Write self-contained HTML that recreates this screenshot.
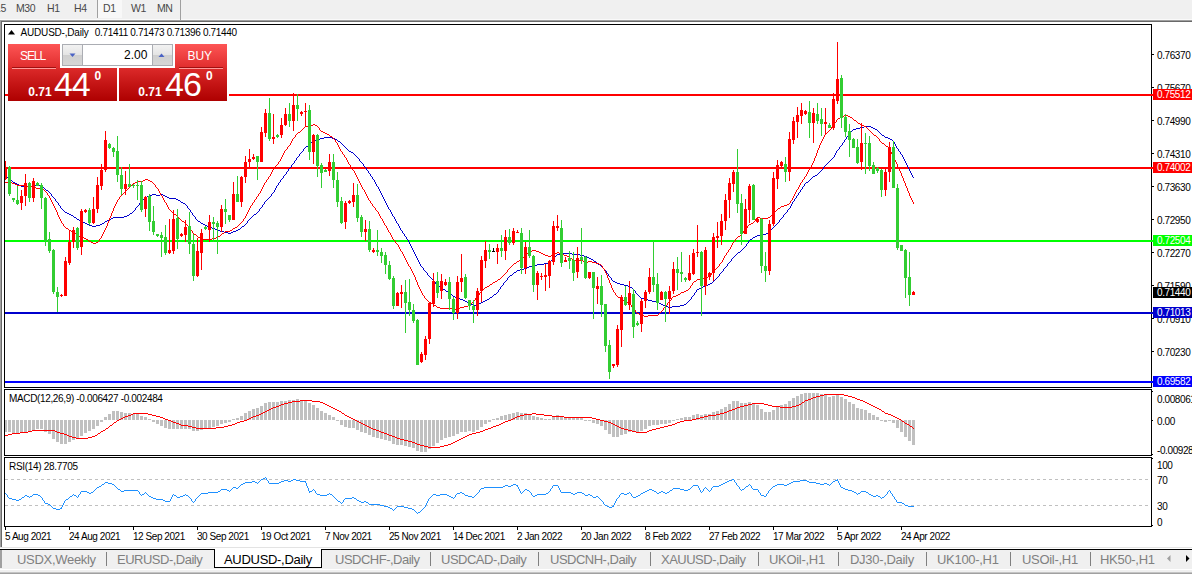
<!DOCTYPE html><html><head><meta charset="utf-8"><style>
*{margin:0;padding:0;box-sizing:border-box}
html,body{width:1192px;height:574px;overflow:hidden;background:#fff}
body{position:relative;font-family:"Liberation Sans",sans-serif;font-size:10px;color:#000}
.a{position:absolute;white-space:nowrap}
.t{position:absolute;white-space:nowrap;font-size:10px;line-height:11px;height:11px;letter-spacing:-0.3px}
.tb{position:absolute;white-space:nowrap;font-size:10.5px;line-height:12px;color:#484848;top:2px;letter-spacing:-0.45px}
.tab{position:absolute;white-space:nowrap;font-size:13px;line-height:14px;color:#808080;top:553px;letter-spacing:-0.3px}
.sep{position:absolute;width:1px;height:14px;top:552px;background:#808080}
.box{position:absolute;left:1153px;width:39px;height:11px;color:#fff;font-size:10px;line-height:12px;overflow:hidden;padding-left:4px;white-space:nowrap;letter-spacing:-0.4px}
</style></head><body>
<div class="a" style="left:0;top:0;width:1192px;height:19px;background:#f0f0f0"></div>
<div class="a" style="left:0;top:19px;width:1192px;height:1px;background:#fafafa"></div>
<div class="a" style="left:0;top:20px;width:1192px;height:1px;background:#a0a0a0"></div>
<div class="a" style="left:1px;top:21px;width:1191px;height:1px;background:#696969"></div>
<div class="a" style="left:0;top:20px;width:1px;height:527px;background:#a0a0a0"></div>
<div class="a" style="left:1px;top:21px;width:1px;height:526px;background:#696969"></div>
<div class="a" style="left:98px;top:0;width:24px;height:18px;background:#f8f8f8"></div>
<div class="a" style="left:97px;top:0;width:1px;height:18px;background:#a0a0a0"></div>
<div class="a" style="left:180px;top:0;width:1px;height:20px;background:#a0a0a0"></div>
<div class="tb" style="left:-5px">15</div>
<div class="tb" style="left:16px">M30</div>
<div class="tb" style="left:47px">H1</div>
<div class="tb" style="left:74px">H4</div>
<div class="tb" style="left:103px">D1</div>
<div class="tb" style="left:131px">W1</div>
<div class="tb" style="left:157px">MN</div>
<svg class="a" style="left:0;top:0" width="1192" height="574" viewBox="0 0 1192 574" shape-rendering="crispEdges">
<rect x="5" y="94" width="1146" height="2" fill="#ff0000"/>
<rect x="5" y="167" width="1146" height="2" fill="#ff0000"/>
<rect x="5" y="240" width="1146" height="2" fill="#00ff00"/>
<rect x="5" y="312" width="1146" height="2" fill="#0000cd"/>
<rect x="5" y="381" width="1146" height="2" fill="#0000ff"/>
<path d="M5 176h1v1h-1zM6 177h1v1h-1zM7 177h1v1h-1zM8 178h1v1h-1zM9 179h1v1h-1zM10 180h1v1h-1zM11 180h1v1h-1zM12 181h1v1h-1zM13 182h1v1h-1zM14 182h1v1h-1zM15 183h1v1h-1zM16 183h1v1h-1zM17 184h1v1h-1zM18 184h1v1h-1zM19 185h1v1h-1zM20 185h1v1h-1zM21 186h1v1h-1zM22 186h1v1h-1zM23 186h1v1h-1zM24 186h1v1h-1zM25 186h1v1h-1zM26 186h1v1h-1zM27 186h1v1h-1zM28 186h1v1h-1zM29 186h1v1h-1zM30 186h1v1h-1zM31 186h1v1h-1zM32 185h1v1h-1zM33 185h1v1h-1zM34 185h1v1h-1zM35 185h1v1h-1zM36 185h1v1h-1zM37 185h1v1h-1zM38 185h1v1h-1zM39 185h1v1h-1zM40 186h1v1h-1zM41 186h1v1h-1zM42 187h1v1h-1zM43 187h1v1h-1zM44 188h1v1h-1zM45 189h1v1h-1zM46 190h1v1h-1zM47 190h1v1h-1zM48 191h1v1h-1zM49 192h1v1h-1zM50 193h1v1h-1zM51 194h1v2h-1zM52 196h1v1h-1zM53 197h1v1h-1zM54 198h1v1h-1zM55 199h1v2h-1zM56 201h1v1h-1zM57 202h1v1h-1zM58 203h1v2h-1zM59 205h1v1h-1zM60 206h1v2h-1zM61 208h1v1h-1zM62 209h1v1h-1zM63 210h1v1h-1zM64 211h1v1h-1zM65 212h1v1h-1zM66 212h1v1h-1zM67 213h1v1h-1zM68 213h1v1h-1zM69 214h1v1h-1zM70 214h1v1h-1zM71 215h1v1h-1zM72 215h1v1h-1zM73 216h1v1h-1zM74 217h1v1h-1zM75 217h1v1h-1zM76 218h1v1h-1zM77 219h1v1h-1zM78 219h1v1h-1zM79 220h1v1h-1zM80 220h1v1h-1zM81 221h1v1h-1zM82 221h1v1h-1zM83 222h1v1h-1zM84 222h1v1h-1zM85 223h1v1h-1zM86 223h1v1h-1zM87 224h1v1h-1zM88 224h1v1h-1zM89 225h1v1h-1zM90 225h1v1h-1zM91 225h1v1h-1zM92 226h1v1h-1zM93 226h1v1h-1zM94 226h1v1h-1zM95 226h1v1h-1zM96 225h1v1h-1zM97 225h1v1h-1zM98 225h1v1h-1zM99 225h1v1h-1zM100 224h1v1h-1zM101 224h1v1h-1zM102 223h1v1h-1zM103 223h1v1h-1zM104 222h1v1h-1zM105 221h1v1h-1zM106 221h1v1h-1zM107 220h1v1h-1zM108 220h1v1h-1zM109 219h1v1h-1zM110 219h1v1h-1zM111 218h1v1h-1zM112 218h1v1h-1zM113 217h1v1h-1zM114 217h1v1h-1zM115 217h1v1h-1zM116 217h1v1h-1zM117 217h1v1h-1zM118 217h1v1h-1zM119 217h1v1h-1zM120 217h1v1h-1zM121 217h1v1h-1zM122 217h1v1h-1zM123 217h1v1h-1zM124 216h1v1h-1zM125 216h1v1h-1zM126 216h1v1h-1zM127 215h1v1h-1zM128 215h1v1h-1zM129 214h1v1h-1zM130 213h1v1h-1zM131 213h1v1h-1zM132 212h1v1h-1zM133 211h1v1h-1zM134 210h1v1h-1zM135 208h1v2h-1zM136 207h1v1h-1zM137 206h1v1h-1zM138 205h1v1h-1zM139 203h1v2h-1zM140 202h1v1h-1zM141 201h1v1h-1zM142 200h1v1h-1zM143 199h1v1h-1zM144 198h1v1h-1zM145 197h1v1h-1zM146 197h1v1h-1zM147 196h1v1h-1zM148 196h1v1h-1zM149 195h1v1h-1zM150 195h1v1h-1zM151 195h1v1h-1zM152 194h1v1h-1zM153 194h1v1h-1zM154 194h1v1h-1zM155 194h1v1h-1zM156 195h1v1h-1zM157 195h1v1h-1zM158 195h1v1h-1zM159 195h1v1h-1zM160 194h1v1h-1zM161 194h1v1h-1zM162 194h1v1h-1zM163 195h1v1h-1zM164 195h1v1h-1zM165 196h1v1h-1zM166 196h1v1h-1zM167 197h1v1h-1zM168 197h1v1h-1zM169 198h1v1h-1zM170 198h1v1h-1zM171 198h1v1h-1zM172 198h1v1h-1zM173 198h1v1h-1zM174 198h1v1h-1zM175 198h1v1h-1zM176 199h1v1h-1zM177 199h1v1h-1zM178 200h1v1h-1zM179 200h1v1h-1zM180 201h1v1h-1zM181 202h1v1h-1zM182 202h1v1h-1zM183 203h1v1h-1zM184 203h1v1h-1zM185 204h1v1h-1zM186 205h1v1h-1zM187 206h1v2h-1zM188 208h1v1h-1zM189 209h1v1h-1zM190 210h1v2h-1zM191 212h1v1h-1zM192 213h1v2h-1zM193 215h1v1h-1zM194 216h1v1h-1zM195 217h1v2h-1zM196 219h1v1h-1zM197 220h1v1h-1zM198 221h1v1h-1zM199 221h1v1h-1zM200 222h1v1h-1zM201 223h1v1h-1zM202 223h1v1h-1zM203 224h1v1h-1zM204 224h1v1h-1zM205 225h1v1h-1zM206 225h1v1h-1zM207 226h1v1h-1zM208 226h1v1h-1zM209 227h1v1h-1zM210 227h1v1h-1zM211 227h1v1h-1zM212 228h1v1h-1zM213 228h1v1h-1zM214 228h1v1h-1zM215 229h1v1h-1zM216 229h1v1h-1zM217 230h1v1h-1zM218 230h1v1h-1zM219 230h1v1h-1zM220 231h1v1h-1zM221 231h1v1h-1zM222 231h1v1h-1zM223 231h1v1h-1zM224 232h1v1h-1zM225 232h1v1h-1zM226 232h1v1h-1zM227 232h1v1h-1zM228 233h1v1h-1zM229 233h1v1h-1zM230 233h1v1h-1zM231 232h1v1h-1zM232 232h1v1h-1zM233 231h1v1h-1zM234 231h1v1h-1zM235 231h1v1h-1zM236 230h1v1h-1zM237 230h1v1h-1zM238 229h1v1h-1zM239 229h1v1h-1zM240 228h1v1h-1zM241 227h1v1h-1zM242 226h1v1h-1zM243 226h1v1h-1zM244 225h1v1h-1zM245 224h1v1h-1zM246 223h1v1h-1zM247 221h1v2h-1zM248 220h1v1h-1zM249 219h1v1h-1zM250 218h1v1h-1zM251 217h1v1h-1zM252 216h1v1h-1zM253 215h1v1h-1zM254 214h1v1h-1zM255 214h1v1h-1zM256 213h1v1h-1zM257 212h1v1h-1zM258 211h1v1h-1zM259 209h1v2h-1zM260 208h1v1h-1zM261 207h1v1h-1zM262 205h1v2h-1zM263 204h1v1h-1zM264 202h1v2h-1zM265 201h1v1h-1zM266 200h1v1h-1zM267 199h1v1h-1zM268 198h1v1h-1zM269 197h1v1h-1zM270 196h1v1h-1zM271 194h1v2h-1zM272 193h1v1h-1zM273 192h1v1h-1zM274 190h1v2h-1zM275 188h1v2h-1zM276 186h1v2h-1zM277 185h1v1h-1zM278 183h1v2h-1zM279 182h1v1h-1zM280 180h1v2h-1zM281 179h1v1h-1zM282 178h1v1h-1zM283 176h1v2h-1zM284 175h1v1h-1zM285 174h1v1h-1zM286 172h1v2h-1zM287 171h1v1h-1zM288 169h1v2h-1zM289 168h1v1h-1zM290 167h1v1h-1zM291 165h1v2h-1zM292 164h1v1h-1zM293 163h1v1h-1zM294 161h1v2h-1zM295 160h1v1h-1zM296 158h1v2h-1zM297 157h1v1h-1zM298 156h1v1h-1zM299 154h1v2h-1zM300 153h1v1h-1zM301 152h1v1h-1zM302 151h1v1h-1zM303 149h1v2h-1zM304 148h1v1h-1zM305 147h1v1h-1zM306 146h1v1h-1zM307 146h1v1h-1zM308 145h1v1h-1zM309 144h1v1h-1zM310 143h1v1h-1zM311 142h1v1h-1zM312 141h1v1h-1zM313 140h1v1h-1zM314 140h1v1h-1zM315 140h1v1h-1zM316 139h1v1h-1zM317 139h1v1h-1zM318 139h1v1h-1zM319 139h1v1h-1zM320 138h1v1h-1zM321 138h1v1h-1zM322 138h1v1h-1zM323 138h1v1h-1zM324 137h1v1h-1zM325 137h1v1h-1zM326 137h1v1h-1zM327 137h1v1h-1zM328 137h1v1h-1zM329 137h1v1h-1zM330 137h1v1h-1zM331 137h1v1h-1zM332 138h1v1h-1zM333 138h1v1h-1zM334 138h1v1h-1zM335 139h1v1h-1zM336 139h1v1h-1zM337 140h1v1h-1zM338 141h1v1h-1zM339 141h1v1h-1zM340 142h1v1h-1zM341 143h1v1h-1zM342 144h1v1h-1zM343 145h1v1h-1zM344 146h1v1h-1zM345 147h1v1h-1zM346 148h1v1h-1zM347 149h1v1h-1zM348 150h1v1h-1zM349 151h1v1h-1zM350 151h1v1h-1zM351 152h1v1h-1zM352 152h1v1h-1zM353 153h1v1h-1zM354 154h1v1h-1zM355 155h1v1h-1zM356 156h1v1h-1zM357 157h1v1h-1zM358 158h1v1h-1zM359 159h1v2h-1zM360 161h1v1h-1zM361 162h1v1h-1zM362 163h1v1h-1zM363 164h1v2h-1zM364 166h1v1h-1zM365 167h1v1h-1zM366 168h1v2h-1zM367 170h1v1h-1zM368 171h1v2h-1zM369 173h1v1h-1zM370 174h1v2h-1zM371 176h1v1h-1zM372 177h1v2h-1zM373 179h1v1h-1zM374 180h1v2h-1zM375 182h1v2h-1zM376 184h1v2h-1zM377 186h1v1h-1zM378 187h1v2h-1zM379 189h1v2h-1zM380 191h1v2h-1zM381 193h1v2h-1zM382 195h1v2h-1zM383 197h1v2h-1zM384 199h1v2h-1zM385 201h1v2h-1zM386 203h1v2h-1zM387 205h1v2h-1zM388 207h1v2h-1zM389 209h1v1h-1zM390 210h1v2h-1zM391 212h1v2h-1zM392 214h1v2h-1zM393 216h1v1h-1zM394 217h1v2h-1zM395 219h1v2h-1zM396 221h1v2h-1zM397 223h1v1h-1zM398 224h1v2h-1zM399 226h1v2h-1zM400 228h1v2h-1zM401 230h1v1h-1zM402 231h1v2h-1zM403 233h1v1h-1zM404 234h1v2h-1zM405 236h1v1h-1zM406 237h1v2h-1zM407 239h1v1h-1zM408 240h1v2h-1zM409 242h1v2h-1zM410 244h1v2h-1zM411 246h1v2h-1zM412 248h1v2h-1zM413 250h1v2h-1zM414 252h1v2h-1zM415 254h1v2h-1zM416 256h1v2h-1zM417 258h1v2h-1zM418 260h1v2h-1zM419 262h1v2h-1zM420 264h1v2h-1zM421 266h1v1h-1zM422 267h1v1h-1zM423 268h1v2h-1zM424 270h1v1h-1zM425 271h1v1h-1zM426 272h1v1h-1zM427 273h1v2h-1zM428 275h1v1h-1zM429 276h1v1h-1zM430 277h1v1h-1zM431 278h1v1h-1zM432 279h1v1h-1zM433 280h1v1h-1zM434 281h1v1h-1zM435 282h1v2h-1zM436 284h1v1h-1zM437 285h1v1h-1zM438 286h1v1h-1zM439 286h1v1h-1zM440 287h1v1h-1zM441 288h1v1h-1zM442 288h1v1h-1zM443 289h1v1h-1zM444 289h1v1h-1zM445 290h1v1h-1zM446 291h1v1h-1zM447 291h1v1h-1zM448 292h1v1h-1zM449 293h1v1h-1zM450 294h1v1h-1zM451 294h1v1h-1zM452 295h1v1h-1zM453 296h1v1h-1zM454 296h1v1h-1zM455 297h1v1h-1zM456 297h1v1h-1zM457 298h1v1h-1zM458 298h1v1h-1zM459 298h1v1h-1zM460 299h1v1h-1zM461 299h1v1h-1zM462 299h1v1h-1zM463 300h1v1h-1zM464 300h1v1h-1zM465 301h1v1h-1zM466 301h1v1h-1zM467 302h1v1h-1zM468 302h1v1h-1zM469 303h1v1h-1zM470 303h1v1h-1zM471 304h1v1h-1zM472 304h1v1h-1zM473 305h1v1h-1zM474 305h1v1h-1zM475 305h1v1h-1zM476 304h1v1h-1zM477 304h1v1h-1zM478 304h1v1h-1zM479 303h1v1h-1zM480 303h1v1h-1zM481 302h1v1h-1zM482 302h1v1h-1zM483 301h1v1h-1zM484 301h1v1h-1zM485 300h1v1h-1zM486 300h1v1h-1zM487 299h1v1h-1zM488 299h1v1h-1zM489 298h1v1h-1zM490 297h1v1h-1zM491 297h1v1h-1zM492 296h1v1h-1zM493 295h1v1h-1zM494 294h1v1h-1zM495 294h1v1h-1zM496 293h1v1h-1zM497 292h1v1h-1zM498 290h1v2h-1zM499 289h1v1h-1zM500 287h1v2h-1zM501 286h1v1h-1zM502 285h1v1h-1zM503 283h1v2h-1zM504 282h1v1h-1zM505 281h1v1h-1zM506 280h1v1h-1zM507 278h1v2h-1zM508 277h1v1h-1zM509 276h1v1h-1zM510 275h1v1h-1zM511 275h1v1h-1zM512 274h1v1h-1zM513 273h1v1h-1zM514 272h1v1h-1zM515 272h1v1h-1zM516 271h1v1h-1zM517 270h1v1h-1zM518 270h1v1h-1zM519 270h1v1h-1zM520 269h1v1h-1zM521 269h1v1h-1zM522 269h1v1h-1zM523 269h1v1h-1zM524 268h1v1h-1zM525 268h1v1h-1zM526 268h1v1h-1zM527 267h1v1h-1zM528 267h1v1h-1zM529 266h1v1h-1zM530 266h1v1h-1zM531 266h1v1h-1zM532 266h1v1h-1zM533 266h1v1h-1zM534 266h1v1h-1zM535 265h1v1h-1zM536 265h1v1h-1zM537 264h1v1h-1zM538 264h1v1h-1zM539 264h1v1h-1zM540 264h1v1h-1zM541 264h1v1h-1zM542 264h1v1h-1zM543 264h1v1h-1zM544 263h1v1h-1zM545 263h1v1h-1zM546 263h1v1h-1zM547 263h1v1h-1zM548 262h1v1h-1zM549 262h1v1h-1zM550 261h1v1h-1zM551 260h1v1h-1zM552 259h1v1h-1zM553 258h1v1h-1zM554 257h1v1h-1zM555 256h1v1h-1zM556 255h1v1h-1zM557 254h1v1h-1zM558 254h1v1h-1zM559 254h1v1h-1zM560 253h1v1h-1zM561 253h1v1h-1zM562 253h1v1h-1zM563 253h1v1h-1zM564 253h1v1h-1zM565 253h1v1h-1zM566 253h1v1h-1zM567 253h1v1h-1zM568 253h1v1h-1zM569 253h1v1h-1zM570 253h1v1h-1zM571 253h1v1h-1zM572 254h1v1h-1zM573 254h1v1h-1zM574 254h1v1h-1zM575 254h1v1h-1zM576 254h1v1h-1zM577 254h1v1h-1zM578 254h1v1h-1zM579 254h1v1h-1zM580 255h1v1h-1zM581 255h1v1h-1zM582 255h1v1h-1zM583 255h1v1h-1zM584 256h1v1h-1zM585 256h1v1h-1zM586 256h1v1h-1zM587 257h1v1h-1zM588 257h1v1h-1zM589 258h1v1h-1zM590 258h1v1h-1zM591 259h1v1h-1zM592 259h1v1h-1zM593 260h1v1h-1zM594 261h1v1h-1zM595 261h1v1h-1zM596 262h1v1h-1zM597 263h1v1h-1zM598 264h1v1h-1zM599 264h1v1h-1zM600 265h1v1h-1zM601 266h1v1h-1zM602 267h1v1h-1zM603 268h1v1h-1zM604 269h1v1h-1zM605 270h1v1h-1zM606 271h1v2h-1zM607 273h1v1h-1zM608 274h1v2h-1zM609 276h1v1h-1zM610 277h1v1h-1zM611 278h1v2h-1zM612 280h1v1h-1zM613 281h1v1h-1zM614 281h1v1h-1zM615 282h1v1h-1zM616 282h1v1h-1zM617 283h1v1h-1zM618 283h1v1h-1zM619 283h1v1h-1zM620 284h1v1h-1zM621 284h1v1h-1zM622 284h1v1h-1zM623 284h1v1h-1zM624 285h1v1h-1zM625 285h1v1h-1zM626 285h1v1h-1zM627 285h1v1h-1zM628 286h1v1h-1zM629 286h1v1h-1zM630 287h1v1h-1zM631 287h1v1h-1zM632 288h1v1h-1zM633 289h1v1h-1zM634 290h1v1h-1zM635 291h1v2h-1zM636 293h1v1h-1zM637 294h1v1h-1zM638 295h1v1h-1zM639 296h1v1h-1zM640 297h1v1h-1zM641 298h1v1h-1zM642 298h1v1h-1zM643 298h1v1h-1zM644 299h1v1h-1zM645 299h1v1h-1zM646 299h1v1h-1zM647 299h1v1h-1zM648 300h1v1h-1zM649 300h1v1h-1zM650 300h1v1h-1zM651 300h1v1h-1zM652 301h1v1h-1zM653 301h1v1h-1zM654 301h1v1h-1zM655 301h1v1h-1zM656 302h1v1h-1zM657 302h1v1h-1zM658 302h1v1h-1zM659 303h1v1h-1zM660 303h1v1h-1zM661 304h1v1h-1zM662 304h1v1h-1zM663 305h1v1h-1zM664 305h1v1h-1zM665 306h1v1h-1zM666 306h1v1h-1zM667 306h1v1h-1zM668 307h1v1h-1zM669 307h1v1h-1zM670 307h1v1h-1zM671 307h1v1h-1zM672 306h1v1h-1zM673 306h1v1h-1zM674 306h1v1h-1zM675 306h1v1h-1zM676 306h1v1h-1zM677 306h1v1h-1zM678 306h1v1h-1zM679 306h1v1h-1zM680 305h1v1h-1zM681 305h1v1h-1zM682 305h1v1h-1zM683 305h1v1h-1zM684 304h1v1h-1zM685 304h1v1h-1zM686 303h1v1h-1zM687 302h1v1h-1zM688 301h1v1h-1zM689 300h1v1h-1zM690 299h1v1h-1zM691 297h1v2h-1zM692 296h1v1h-1zM693 295h1v1h-1zM694 293h1v2h-1zM695 292h1v1h-1zM696 290h1v2h-1zM697 289h1v1h-1zM698 289h1v1h-1zM699 288h1v1h-1zM700 288h1v1h-1zM701 287h1v1h-1zM702 287h1v1h-1zM703 286h1v1h-1zM704 286h1v1h-1zM705 285h1v1h-1zM706 285h1v1h-1zM707 285h1v1h-1zM708 284h1v1h-1zM709 284h1v1h-1zM710 283h1v1h-1zM711 283h1v1h-1zM712 282h1v1h-1zM713 281h1v1h-1zM714 280h1v1h-1zM715 279h1v1h-1zM716 278h1v1h-1zM717 277h1v1h-1zM718 276h1v1h-1zM719 274h1v2h-1zM720 273h1v1h-1zM721 272h1v1h-1zM722 271h1v1h-1zM723 269h1v2h-1zM724 268h1v1h-1zM725 267h1v1h-1zM726 266h1v1h-1zM727 264h1v2h-1zM728 263h1v1h-1zM729 262h1v1h-1zM730 261h1v1h-1zM731 259h1v2h-1zM732 258h1v1h-1zM733 257h1v1h-1zM734 256h1v1h-1zM735 255h1v1h-1zM736 254h1v1h-1zM737 253h1v1h-1zM738 252h1v1h-1zM739 252h1v1h-1zM740 251h1v1h-1zM741 250h1v1h-1zM742 249h1v1h-1zM743 248h1v1h-1zM744 247h1v1h-1zM745 246h1v1h-1zM746 244h1v2h-1zM747 243h1v1h-1zM748 241h1v2h-1zM749 240h1v1h-1zM750 239h1v1h-1zM751 239h1v1h-1zM752 238h1v1h-1zM753 237h1v1h-1zM754 237h1v1h-1zM755 236h1v1h-1zM756 236h1v1h-1zM757 235h1v1h-1zM758 235h1v1h-1zM759 235h1v1h-1zM760 234h1v1h-1zM761 234h1v1h-1zM762 234h1v1h-1zM763 234h1v1h-1zM764 234h1v1h-1zM765 234h1v1h-1zM766 233h1v1h-1zM767 233h1v1h-1zM768 232h1v1h-1zM769 231h1v1h-1zM770 230h1v1h-1zM771 229h1v1h-1zM772 228h1v1h-1zM773 227h1v1h-1zM774 226h1v1h-1zM775 225h1v1h-1zM776 224h1v1h-1zM777 223h1v1h-1zM778 222h1v1h-1zM779 220h1v2h-1zM780 219h1v1h-1zM781 218h1v1h-1zM782 217h1v1h-1zM783 215h1v2h-1zM784 214h1v1h-1zM785 213h1v1h-1zM786 212h1v1h-1zM787 210h1v2h-1zM788 209h1v1h-1zM789 208h1v1h-1zM790 206h1v2h-1zM791 204h1v2h-1zM792 202h1v2h-1zM793 201h1v1h-1zM794 199h1v2h-1zM795 198h1v1h-1zM796 196h1v2h-1zM797 195h1v1h-1zM798 193h1v2h-1zM799 192h1v1h-1zM800 190h1v2h-1zM801 189h1v1h-1zM802 187h1v2h-1zM803 186h1v1h-1zM804 184h1v2h-1zM805 183h1v1h-1zM806 182h1v1h-1zM807 182h1v1h-1zM808 181h1v1h-1zM809 180h1v1h-1zM810 179h1v1h-1zM811 178h1v1h-1zM812 177h1v1h-1zM813 176h1v1h-1zM814 176h1v1h-1zM815 175h1v1h-1zM816 175h1v1h-1zM817 174h1v1h-1zM818 173h1v1h-1zM819 172h1v1h-1zM820 171h1v1h-1zM821 170h1v1h-1zM822 169h1v1h-1zM823 167h1v2h-1zM824 166h1v1h-1zM825 165h1v1h-1zM826 164h1v1h-1zM827 163h1v1h-1zM828 162h1v1h-1zM829 161h1v1h-1zM830 160h1v1h-1zM831 159h1v1h-1zM832 158h1v1h-1zM833 157h1v1h-1zM834 155h1v2h-1zM835 153h1v2h-1zM836 151h1v2h-1zM837 150h1v1h-1zM838 149h1v1h-1zM839 147h1v2h-1zM840 146h1v1h-1zM841 145h1v1h-1zM842 143h1v2h-1zM843 142h1v1h-1zM844 140h1v2h-1zM845 139h1v1h-1zM846 137h1v2h-1zM847 136h1v1h-1zM848 134h1v2h-1zM849 133h1v1h-1zM850 132h1v1h-1zM851 131h1v1h-1zM852 130h1v1h-1zM853 129h1v1h-1zM854 129h1v1h-1zM855 129h1v1h-1zM856 128h1v1h-1zM857 128h1v1h-1zM858 128h1v1h-1zM859 128h1v1h-1zM860 127h1v1h-1zM861 127h1v1h-1zM862 127h1v1h-1zM863 127h1v1h-1zM864 126h1v1h-1zM865 126h1v1h-1zM866 126h1v1h-1zM867 126h1v1h-1zM868 126h1v1h-1zM869 126h1v1h-1zM870 126h1v1h-1zM871 127h1v1h-1zM872 127h1v1h-1zM873 128h1v1h-1zM874 128h1v1h-1zM875 129h1v1h-1zM876 129h1v1h-1zM877 130h1v1h-1zM878 131h1v1h-1zM879 132h1v1h-1zM880 133h1v1h-1zM881 134h1v1h-1zM882 135h1v1h-1zM883 135h1v1h-1zM884 136h1v1h-1zM885 137h1v1h-1zM886 137h1v1h-1zM887 137h1v1h-1zM888 138h1v1h-1zM889 138h1v1h-1zM890 139h1v1h-1zM891 139h1v1h-1zM892 140h1v1h-1zM893 141h1v1h-1zM894 142h1v2h-1zM895 144h1v2h-1zM896 146h1v2h-1zM897 148h1v1h-1zM898 149h1v2h-1zM899 151h1v1h-1zM900 152h1v2h-1zM901 154h1v1h-1zM902 155h1v2h-1zM903 157h1v2h-1zM904 159h1v2h-1zM905 161h1v2h-1zM906 163h1v2h-1zM907 165h1v2h-1zM908 167h1v2h-1zM909 169h1v2h-1zM910 171h1v2h-1zM911 173h1v2h-1zM912 175h1v2h-1zM913 177h1v1h-1z" fill="#0000cd"/>
<path d="M5 182h1v1h-1zM6 182h1v1h-1zM7 182h1v1h-1zM8 182h1v1h-1zM9 182h1v1h-1zM10 182h1v1h-1zM11 182h1v1h-1zM12 183h1v1h-1zM13 183h1v1h-1zM14 183h1v1h-1zM15 184h1v1h-1zM16 184h1v1h-1zM17 185h1v1h-1zM18 185h1v1h-1zM19 185h1v1h-1zM20 185h1v1h-1zM21 185h1v1h-1zM22 185h1v1h-1zM23 185h1v1h-1zM24 186h1v1h-1zM25 186h1v1h-1zM26 186h1v1h-1zM27 186h1v1h-1zM28 186h1v1h-1zM29 186h1v1h-1zM30 186h1v1h-1zM31 186h1v1h-1zM32 187h1v1h-1zM33 187h1v1h-1zM34 187h1v1h-1zM35 187h1v1h-1zM36 188h1v1h-1zM37 188h1v1h-1zM38 188h1v1h-1zM39 188h1v1h-1zM40 188h1v1h-1zM41 188h1v1h-1zM42 189h1v1h-1zM43 189h1v1h-1zM44 190h1v1h-1zM45 191h1v1h-1zM46 192h1v1h-1zM47 193h1v2h-1zM48 195h1v1h-1zM49 196h1v2h-1zM50 198h1v2h-1zM51 200h1v2h-1zM52 202h1v2h-1zM53 204h1v2h-1zM54 206h1v2h-1zM55 208h1v2h-1zM56 210h1v2h-1zM57 212h1v3h-1zM58 215h1v2h-1zM59 217h1v2h-1zM60 219h1v2h-1zM61 221h1v2h-1zM62 223h1v1h-1zM63 224h1v2h-1zM64 226h1v1h-1zM65 227h1v1h-1zM66 228h1v1h-1zM67 228h1v1h-1zM68 229h1v1h-1zM69 230h1v1h-1zM70 230h1v1h-1zM71 231h1v1h-1zM72 231h1v1h-1zM73 232h1v1h-1zM74 233h1v1h-1zM75 233h1v1h-1zM76 234h1v1h-1zM77 235h1v1h-1zM78 235h1v1h-1zM79 236h1v1h-1zM80 236h1v1h-1zM81 237h1v1h-1zM82 237h1v1h-1zM83 237h1v1h-1zM84 238h1v1h-1zM85 238h1v1h-1zM86 239h1v1h-1zM87 239h1v1h-1zM88 240h1v1h-1zM89 241h1v1h-1zM90 241h1v1h-1zM91 242h1v1h-1zM92 242h1v1h-1zM93 243h1v1h-1zM94 243h1v1h-1zM95 243h1v1h-1zM96 242h1v1h-1zM97 242h1v1h-1zM98 241h1v1h-1zM99 239h1v2h-1zM100 238h1v1h-1zM101 236h1v2h-1zM102 234h1v2h-1zM103 232h1v2h-1zM104 230h1v2h-1zM105 228h1v2h-1zM106 226h1v2h-1zM107 223h1v3h-1zM108 221h1v2h-1zM109 218h1v3h-1zM110 216h1v2h-1zM111 213h1v3h-1zM112 211h1v2h-1zM113 208h1v3h-1zM114 206h1v2h-1zM115 204h1v2h-1zM116 202h1v2h-1zM117 200h1v2h-1zM118 199h1v1h-1zM119 197h1v2h-1zM120 196h1v1h-1zM121 195h1v1h-1zM122 194h1v1h-1zM123 193h1v1h-1zM124 192h1v1h-1zM125 191h1v1h-1zM126 190h1v1h-1zM127 189h1v1h-1zM128 188h1v1h-1zM129 187h1v1h-1zM130 186h1v1h-1zM131 185h1v1h-1zM132 184h1v1h-1zM133 183h1v1h-1zM134 183h1v1h-1zM135 182h1v1h-1zM136 182h1v1h-1zM137 181h1v1h-1zM138 181h1v1h-1zM139 181h1v1h-1zM140 181h1v1h-1zM141 181h1v1h-1zM142 181h1v1h-1zM143 180h1v1h-1zM144 180h1v1h-1zM145 179h1v1h-1zM146 179h1v1h-1zM147 179h1v1h-1zM148 180h1v1h-1zM149 180h1v1h-1zM150 181h1v1h-1zM151 181h1v1h-1zM152 182h1v1h-1zM153 183h1v1h-1zM154 184h1v1h-1zM155 185h1v2h-1zM156 187h1v1h-1zM157 188h1v1h-1zM158 189h1v2h-1zM159 191h1v2h-1zM160 193h1v2h-1zM161 195h1v1h-1zM162 196h1v2h-1zM163 198h1v2h-1zM164 200h1v2h-1zM165 202h1v1h-1zM166 203h1v2h-1zM167 205h1v2h-1zM168 207h1v2h-1zM169 209h1v1h-1zM170 210h1v1h-1zM171 211h1v1h-1zM172 212h1v1h-1zM173 213h1v1h-1zM174 214h1v1h-1zM175 214h1v1h-1zM176 215h1v1h-1zM177 216h1v1h-1zM178 217h1v1h-1zM179 218h1v1h-1zM180 219h1v1h-1zM181 220h1v1h-1zM182 221h1v1h-1zM183 221h1v1h-1zM184 222h1v1h-1zM185 223h1v1h-1zM186 224h1v1h-1zM187 225h1v1h-1zM188 226h1v1h-1zM189 227h1v1h-1zM190 228h1v2h-1zM191 230h1v1h-1zM192 231h1v2h-1zM193 233h1v1h-1zM194 234h1v1h-1zM195 234h1v1h-1zM196 235h1v1h-1zM197 236h1v1h-1zM198 237h1v1h-1zM199 237h1v1h-1zM200 238h1v1h-1zM201 239h1v1h-1zM202 239h1v1h-1zM203 239h1v1h-1zM204 239h1v1h-1zM205 239h1v1h-1zM206 239h1v1h-1zM207 239h1v1h-1zM208 239h1v1h-1zM209 239h1v1h-1zM210 239h1v1h-1zM211 239h1v1h-1zM212 238h1v1h-1zM213 238h1v1h-1zM214 238h1v1h-1zM215 238h1v1h-1zM216 237h1v1h-1zM217 237h1v1h-1zM218 236h1v1h-1zM219 236h1v1h-1zM220 235h1v1h-1zM221 234h1v1h-1zM222 233h1v1h-1zM223 233h1v1h-1zM224 232h1v1h-1zM225 231h1v1h-1zM226 231h1v1h-1zM227 231h1v1h-1zM228 231h1v1h-1zM229 231h1v1h-1zM230 230h1v1h-1zM231 230h1v1h-1zM232 229h1v1h-1zM233 228h1v1h-1zM234 228h1v1h-1zM235 227h1v1h-1zM236 227h1v1h-1zM237 226h1v1h-1zM238 225h1v1h-1zM239 224h1v1h-1zM240 223h1v1h-1zM241 222h1v1h-1zM242 221h1v1h-1zM243 219h1v2h-1zM244 218h1v1h-1zM245 216h1v2h-1zM246 214h1v2h-1zM247 212h1v2h-1zM248 210h1v2h-1zM249 208h1v2h-1zM250 206h1v2h-1zM251 205h1v1h-1zM252 203h1v2h-1zM253 202h1v1h-1zM254 200h1v2h-1zM255 199h1v1h-1zM256 197h1v2h-1zM257 196h1v1h-1zM258 194h1v2h-1zM259 193h1v1h-1zM260 191h1v2h-1zM261 189h1v2h-1zM262 187h1v2h-1zM263 185h1v2h-1zM264 183h1v2h-1zM265 182h1v1h-1zM266 180h1v2h-1zM267 179h1v1h-1zM268 177h1v2h-1zM269 176h1v1h-1zM270 174h1v2h-1zM271 172h1v2h-1zM272 170h1v2h-1zM273 169h1v1h-1zM274 168h1v1h-1zM275 166h1v2h-1zM276 165h1v1h-1zM277 164h1v1h-1zM278 162h1v2h-1zM279 161h1v1h-1zM280 159h1v2h-1zM281 157h1v2h-1zM282 155h1v2h-1zM283 153h1v2h-1zM284 151h1v2h-1zM285 150h1v1h-1zM286 149h1v1h-1zM287 147h1v2h-1zM288 146h1v1h-1zM289 145h1v1h-1zM290 143h1v2h-1zM291 141h1v2h-1zM292 139h1v2h-1zM293 138h1v1h-1zM294 137h1v1h-1zM295 135h1v2h-1zM296 134h1v1h-1zM297 133h1v1h-1zM298 132h1v1h-1zM299 132h1v1h-1zM300 131h1v1h-1zM301 130h1v1h-1zM302 129h1v1h-1zM303 128h1v1h-1zM304 127h1v1h-1zM305 126h1v1h-1zM306 126h1v1h-1zM307 126h1v1h-1zM308 126h1v1h-1zM309 126h1v1h-1zM310 126h1v1h-1zM311 125h1v1h-1zM312 125h1v1h-1zM313 124h1v1h-1zM314 124h1v1h-1zM315 125h1v1h-1zM316 125h1v1h-1zM317 126h1v1h-1zM318 127h1v1h-1zM319 128h1v2h-1zM320 130h1v1h-1zM321 131h1v1h-1zM322 131h1v1h-1zM323 132h1v1h-1zM324 132h1v1h-1zM325 133h1v1h-1zM326 133h1v1h-1zM327 134h1v1h-1zM328 134h1v1h-1zM329 135h1v1h-1zM330 136h1v1h-1zM331 136h1v1h-1zM332 137h1v1h-1zM333 138h1v1h-1zM334 139h1v1h-1zM335 140h1v2h-1zM336 142h1v1h-1zM337 143h1v2h-1zM338 145h1v2h-1zM339 147h1v2h-1zM340 149h1v2h-1zM341 151h1v1h-1zM342 152h1v2h-1zM343 154h1v1h-1zM344 155h1v2h-1zM345 157h1v1h-1zM346 158h1v2h-1zM347 160h1v2h-1zM348 162h1v2h-1zM349 164h1v1h-1zM350 165h1v2h-1zM351 167h1v1h-1zM352 168h1v2h-1zM353 170h1v1h-1zM354 171h1v2h-1zM355 173h1v2h-1zM356 175h1v2h-1zM357 177h1v2h-1zM358 179h1v2h-1zM359 181h1v2h-1zM360 183h1v2h-1zM361 185h1v2h-1zM362 187h1v2h-1zM363 189h1v1h-1zM364 190h1v2h-1zM365 192h1v2h-1zM366 194h1v2h-1zM367 196h1v2h-1zM368 198h1v2h-1zM369 200h1v1h-1zM370 201h1v2h-1zM371 203h1v1h-1zM372 204h1v2h-1zM373 206h1v1h-1zM374 207h1v1h-1zM375 208h1v2h-1zM376 210h1v1h-1zM377 211h1v1h-1zM378 212h1v2h-1zM379 214h1v2h-1zM380 216h1v2h-1zM381 218h1v1h-1zM382 219h1v2h-1zM383 221h1v2h-1zM384 223h1v2h-1zM385 225h1v1h-1zM386 226h1v2h-1zM387 228h1v2h-1zM388 230h1v2h-1zM389 232h1v1h-1zM390 233h1v2h-1zM391 235h1v2h-1zM392 237h1v2h-1zM393 239h1v1h-1zM394 240h1v1h-1zM395 241h1v2h-1zM396 243h1v1h-1zM397 244h1v1h-1zM398 245h1v2h-1zM399 247h1v2h-1zM400 249h1v2h-1zM401 251h1v1h-1zM402 252h1v2h-1zM403 254h1v2h-1zM404 256h1v2h-1zM405 258h1v2h-1zM406 260h1v2h-1zM407 262h1v2h-1zM408 264h1v2h-1zM409 266h1v1h-1zM410 267h1v2h-1zM411 269h1v2h-1zM412 271h1v2h-1zM413 273h1v2h-1zM414 275h1v2h-1zM415 277h1v3h-1zM416 280h1v2h-1zM417 282h1v3h-1zM418 285h1v2h-1zM419 287h1v2h-1zM420 289h1v2h-1zM421 291h1v2h-1zM422 293h1v2h-1zM423 295h1v1h-1zM424 296h1v2h-1zM425 298h1v1h-1zM426 299h1v1h-1zM427 300h1v1h-1zM428 301h1v1h-1zM429 302h1v1h-1zM430 302h1v1h-1zM431 303h1v1h-1zM432 303h1v1h-1zM433 304h1v1h-1zM434 305h1v1h-1zM435 305h1v1h-1zM436 306h1v1h-1zM437 307h1v1h-1zM438 307h1v1h-1zM439 307h1v1h-1zM440 308h1v1h-1zM441 308h1v1h-1zM442 308h1v1h-1zM443 308h1v1h-1zM444 308h1v1h-1zM445 308h1v1h-1zM446 308h1v1h-1zM447 308h1v1h-1zM448 308h1v1h-1zM449 308h1v1h-1zM450 308h1v1h-1zM451 308h1v1h-1zM452 309h1v1h-1zM453 309h1v1h-1zM454 309h1v1h-1zM455 309h1v1h-1zM456 308h1v1h-1zM457 308h1v1h-1zM458 308h1v1h-1zM459 308h1v1h-1zM460 307h1v1h-1zM461 307h1v1h-1zM462 307h1v1h-1zM463 307h1v1h-1zM464 306h1v1h-1zM465 306h1v1h-1zM466 306h1v1h-1zM467 306h1v1h-1zM468 305h1v1h-1zM469 305h1v1h-1zM470 304h1v1h-1zM471 303h1v1h-1zM472 302h1v1h-1zM473 301h1v1h-1zM474 300h1v1h-1zM475 298h1v2h-1zM476 297h1v1h-1zM477 296h1v1h-1zM478 295h1v1h-1zM479 293h1v2h-1zM480 292h1v1h-1zM481 291h1v1h-1zM482 290h1v1h-1zM483 289h1v1h-1zM484 288h1v1h-1zM485 287h1v1h-1zM486 287h1v1h-1zM487 286h1v1h-1zM488 286h1v1h-1zM489 285h1v1h-1zM490 284h1v1h-1zM491 284h1v1h-1zM492 283h1v1h-1zM493 282h1v1h-1zM494 282h1v1h-1zM495 281h1v1h-1zM496 281h1v1h-1zM497 280h1v1h-1zM498 279h1v1h-1zM499 279h1v1h-1zM500 278h1v1h-1zM501 277h1v1h-1zM502 276h1v1h-1zM503 275h1v1h-1zM504 274h1v1h-1zM505 273h1v1h-1zM506 272h1v1h-1zM507 270h1v2h-1zM508 269h1v1h-1zM509 268h1v1h-1zM510 267h1v1h-1zM511 266h1v1h-1zM512 265h1v1h-1zM513 264h1v1h-1zM514 263h1v1h-1zM515 263h1v1h-1zM516 262h1v1h-1zM517 261h1v1h-1zM518 261h1v1h-1zM519 260h1v1h-1zM520 260h1v1h-1zM521 259h1v1h-1zM522 258h1v1h-1zM523 257h1v1h-1zM524 256h1v1h-1zM525 255h1v1h-1zM526 254h1v1h-1zM527 253h1v1h-1zM528 252h1v1h-1zM529 251h1v1h-1zM530 251h1v1h-1zM531 251h1v1h-1zM532 250h1v1h-1zM533 250h1v1h-1zM534 250h1v1h-1zM535 250h1v1h-1zM536 251h1v1h-1zM537 251h1v1h-1zM538 251h1v1h-1zM539 252h1v1h-1zM540 252h1v1h-1zM541 253h1v1h-1zM542 253h1v1h-1zM543 254h1v1h-1zM544 254h1v1h-1zM545 255h1v1h-1zM546 255h1v1h-1zM547 255h1v1h-1zM548 256h1v1h-1zM549 256h1v1h-1zM550 256h1v1h-1zM551 255h1v1h-1zM552 255h1v1h-1zM553 254h1v1h-1zM554 254h1v1h-1zM555 253h1v1h-1zM556 253h1v1h-1zM557 252h1v1h-1zM558 252h1v1h-1zM559 253h1v1h-1zM560 253h1v1h-1zM561 254h1v1h-1zM562 254h1v1h-1zM563 254h1v1h-1zM564 255h1v1h-1zM565 255h1v1h-1zM566 255h1v1h-1zM567 256h1v1h-1zM568 256h1v1h-1zM569 257h1v1h-1zM570 258h1v1h-1zM571 258h1v1h-1zM572 259h1v1h-1zM573 260h1v1h-1zM574 260h1v1h-1zM575 260h1v1h-1zM576 260h1v1h-1zM577 260h1v1h-1zM578 260h1v1h-1zM579 260h1v1h-1zM580 260h1v1h-1zM581 260h1v1h-1zM582 260h1v1h-1zM583 261h1v1h-1zM584 261h1v1h-1zM585 262h1v1h-1zM586 262h1v1h-1zM587 262h1v1h-1zM588 261h1v1h-1zM589 261h1v1h-1zM590 261h1v1h-1zM591 261h1v1h-1zM592 262h1v1h-1zM593 262h1v1h-1zM594 262h1v1h-1zM595 262h1v1h-1zM596 263h1v1h-1zM597 263h1v1h-1zM598 263h1v1h-1zM599 264h1v1h-1zM600 264h1v1h-1zM601 265h1v1h-1zM602 266h1v2h-1zM603 268h1v1h-1zM604 269h1v2h-1zM605 271h1v2h-1zM606 273h1v2h-1zM607 275h1v3h-1zM608 278h1v2h-1zM609 280h1v3h-1zM610 283h1v2h-1zM611 285h1v3h-1zM612 288h1v2h-1zM613 290h1v2h-1zM614 292h1v1h-1zM615 293h1v2h-1zM616 295h1v1h-1zM617 296h1v1h-1zM618 297h1v1h-1zM619 297h1v1h-1zM620 298h1v1h-1zM621 299h1v1h-1zM622 300h1v1h-1zM623 300h1v1h-1zM624 301h1v1h-1zM625 302h1v1h-1zM626 302h1v1h-1zM627 302h1v1h-1zM628 303h1v1h-1zM629 303h1v1h-1zM630 304h1v1h-1zM631 305h1v2h-1zM632 307h1v1h-1zM633 308h1v1h-1zM634 309h1v1h-1zM635 310h1v2h-1zM636 312h1v1h-1zM637 313h1v1h-1zM638 313h1v1h-1zM639 314h1v1h-1zM640 314h1v1h-1zM641 315h1v1h-1zM642 315h1v1h-1zM643 315h1v1h-1zM644 316h1v1h-1zM645 316h1v1h-1zM646 316h1v1h-1zM647 316h1v1h-1zM648 315h1v1h-1zM649 315h1v1h-1zM650 315h1v1h-1zM651 315h1v1h-1zM652 315h1v1h-1zM653 315h1v1h-1zM654 315h1v1h-1zM655 315h1v1h-1zM656 315h1v1h-1zM657 315h1v1h-1zM658 314h1v1h-1zM659 313h1v1h-1zM660 312h1v1h-1zM661 311h1v1h-1zM662 310h1v1h-1zM663 308h1v2h-1zM664 307h1v1h-1zM665 306h1v1h-1zM666 305h1v1h-1zM667 303h1v2h-1zM668 302h1v1h-1zM669 301h1v1h-1zM670 300h1v1h-1zM671 298h1v2h-1zM672 297h1v1h-1zM673 296h1v1h-1zM674 296h1v1h-1zM675 296h1v1h-1zM676 295h1v1h-1zM677 295h1v1h-1zM678 294h1v1h-1zM679 294h1v1h-1zM680 293h1v1h-1zM681 292h1v1h-1zM682 292h1v1h-1zM683 292h1v1h-1zM684 291h1v1h-1zM685 291h1v1h-1zM686 290h1v1h-1zM687 290h1v1h-1zM688 289h1v1h-1zM689 288h1v1h-1zM690 286h1v2h-1zM691 285h1v1h-1zM692 283h1v2h-1zM693 282h1v1h-1zM694 281h1v1h-1zM695 281h1v1h-1zM696 280h1v1h-1zM697 279h1v1h-1zM698 279h1v1h-1zM699 279h1v1h-1zM700 278h1v1h-1zM701 278h1v1h-1zM702 278h1v1h-1zM703 278h1v1h-1zM704 277h1v1h-1zM705 277h1v1h-1zM706 277h1v1h-1zM707 277h1v1h-1zM708 276h1v1h-1zM709 276h1v1h-1zM710 275h1v1h-1zM711 273h1v2h-1zM712 272h1v1h-1zM713 271h1v1h-1zM714 270h1v1h-1zM715 269h1v1h-1zM716 268h1v1h-1zM717 267h1v1h-1zM718 266h1v1h-1zM719 264h1v2h-1zM720 263h1v1h-1zM721 262h1v1h-1zM722 260h1v2h-1zM723 258h1v2h-1zM724 256h1v2h-1zM725 255h1v1h-1zM726 253h1v2h-1zM727 252h1v1h-1zM728 250h1v2h-1zM729 249h1v1h-1zM730 247h1v2h-1zM731 245h1v2h-1zM732 243h1v2h-1zM733 242h1v1h-1zM734 241h1v1h-1zM735 239h1v2h-1zM736 238h1v1h-1zM737 237h1v1h-1zM738 236h1v1h-1zM739 236h1v1h-1zM740 235h1v1h-1zM741 234h1v1h-1zM742 233h1v1h-1zM743 231h1v2h-1zM744 230h1v1h-1zM745 229h1v1h-1zM746 228h1v1h-1zM747 226h1v2h-1zM748 225h1v1h-1zM749 224h1v1h-1zM750 224h1v1h-1zM751 223h1v1h-1zM752 223h1v1h-1zM753 222h1v1h-1zM754 221h1v1h-1zM755 219h1v2h-1zM756 218h1v1h-1zM757 217h1v1h-1zM758 217h1v1h-1zM759 217h1v1h-1zM760 218h1v1h-1zM761 218h1v1h-1zM762 218h1v1h-1zM763 218h1v1h-1zM764 218h1v1h-1zM765 218h1v1h-1zM766 218h1v1h-1zM767 218h1v1h-1zM768 217h1v1h-1zM769 217h1v1h-1zM770 216h1v1h-1zM771 215h1v1h-1zM772 214h1v1h-1zM773 213h1v1h-1zM774 212h1v1h-1zM775 211h1v1h-1zM776 210h1v1h-1zM777 209h1v1h-1zM778 208h1v1h-1zM779 208h1v1h-1zM780 207h1v1h-1zM781 206h1v1h-1zM782 206h1v1h-1zM783 206h1v1h-1zM784 205h1v1h-1zM785 205h1v1h-1zM786 205h1v1h-1zM787 204h1v1h-1zM788 204h1v1h-1zM789 203h1v1h-1zM790 201h1v2h-1zM791 200h1v1h-1zM792 198h1v2h-1zM793 196h1v2h-1zM794 194h1v2h-1zM795 192h1v2h-1zM796 190h1v2h-1zM797 189h1v1h-1zM798 187h1v2h-1zM799 185h1v2h-1zM800 183h1v2h-1zM801 182h1v1h-1zM802 180h1v2h-1zM803 179h1v1h-1zM804 177h1v2h-1zM805 176h1v1h-1zM806 174h1v2h-1zM807 172h1v2h-1zM808 170h1v2h-1zM809 169h1v1h-1zM810 167h1v2h-1zM811 165h1v2h-1zM812 163h1v2h-1zM813 161h1v2h-1zM814 158h1v3h-1zM815 156h1v2h-1zM816 153h1v3h-1zM817 150h1v3h-1zM818 148h1v2h-1zM819 145h1v3h-1zM820 143h1v2h-1zM821 141h1v2h-1zM822 139h1v2h-1zM823 137h1v2h-1zM824 135h1v2h-1zM825 134h1v1h-1zM826 133h1v1h-1zM827 132h1v1h-1zM828 131h1v1h-1zM829 130h1v1h-1zM830 129h1v1h-1zM831 127h1v2h-1zM832 126h1v1h-1zM833 125h1v1h-1zM834 123h1v2h-1zM835 122h1v1h-1zM836 120h1v2h-1zM837 119h1v1h-1zM838 118h1v1h-1zM839 118h1v1h-1zM840 117h1v1h-1zM841 116h1v1h-1zM842 116h1v1h-1zM843 116h1v1h-1zM844 115h1v1h-1zM845 115h1v1h-1zM846 115h1v1h-1zM847 115h1v1h-1zM848 116h1v1h-1zM849 116h1v1h-1zM850 117h1v1h-1zM851 117h1v1h-1zM852 118h1v1h-1zM853 119h1v1h-1zM854 120h1v1h-1zM855 120h1v1h-1zM856 121h1v1h-1zM857 122h1v1h-1zM858 123h1v1h-1zM859 123h1v1h-1zM860 124h1v1h-1zM861 125h1v1h-1zM862 125h1v1h-1zM863 125h1v1h-1zM864 126h1v1h-1zM865 126h1v1h-1zM866 127h1v1h-1zM867 128h1v1h-1zM868 129h1v1h-1zM869 130h1v1h-1zM870 131h1v1h-1zM871 132h1v1h-1zM872 133h1v1h-1zM873 134h1v1h-1zM874 135h1v1h-1zM875 135h1v1h-1zM876 136h1v1h-1zM877 137h1v1h-1zM878 138h1v1h-1zM879 139h1v2h-1zM880 141h1v1h-1zM881 142h1v1h-1zM882 143h1v1h-1zM883 143h1v1h-1zM884 144h1v1h-1zM885 145h1v1h-1zM886 146h1v1h-1zM887 146h1v1h-1zM888 147h1v1h-1zM889 148h1v2h-1zM890 150h1v2h-1zM891 152h1v2h-1zM892 154h1v2h-1zM893 156h1v2h-1zM894 158h1v2h-1zM895 160h1v2h-1zM896 162h1v2h-1zM897 164h1v3h-1zM898 167h1v2h-1zM899 169h1v2h-1zM900 171h1v2h-1zM901 173h1v3h-1zM902 176h1v2h-1zM903 178h1v3h-1zM904 181h1v2h-1zM905 183h1v3h-1zM906 186h1v2h-1zM907 188h1v3h-1zM908 191h1v2h-1zM909 193h1v3h-1zM910 196h1v2h-1zM911 198h1v2h-1zM912 200h1v2h-1zM913 202h1v2h-1z" fill="#ff0000"/>
<rect x="5" y="161" width="1" height="19" fill="#ff0000"/>
<rect x="4" y="167" width="3" height="12" fill="#ff0000"/>
<rect x="9" y="166" width="1" height="30" fill="#32cd32"/>
<rect x="8" y="167" width="3" height="27" fill="#32cd32"/>
<rect x="13" y="198" width="1" height="4" fill="#32cd32"/>
<rect x="12" y="198" width="3" height="2" fill="#32cd32"/>
<rect x="17" y="186" width="1" height="19" fill="#32cd32"/>
<rect x="16" y="200" width="3" height="4" fill="#32cd32"/>
<rect x="21" y="190" width="1" height="20" fill="#ff0000"/>
<rect x="20" y="196" width="3" height="7" fill="#ff0000"/>
<rect x="25" y="174" width="1" height="32" fill="#ff0000"/>
<rect x="24" y="183" width="3" height="13" fill="#ff0000"/>
<rect x="29" y="182" width="1" height="20" fill="#32cd32"/>
<rect x="28" y="183" width="3" height="15" fill="#32cd32"/>
<rect x="33" y="178" width="1" height="24" fill="#ff0000"/>
<rect x="32" y="181" width="3" height="17" fill="#ff0000"/>
<rect x="37" y="182" width="1" height="4" fill="#32cd32"/>
<rect x="36" y="183" width="3" height="3" fill="#32cd32"/>
<rect x="41" y="183" width="1" height="26" fill="#32cd32"/>
<rect x="40" y="185" width="3" height="13" fill="#32cd32"/>
<rect x="45" y="197" width="1" height="49" fill="#32cd32"/>
<rect x="44" y="198" width="3" height="43" fill="#32cd32"/>
<rect x="49" y="232" width="1" height="21" fill="#32cd32"/>
<rect x="48" y="239" width="3" height="12" fill="#32cd32"/>
<rect x="53" y="249" width="1" height="45" fill="#32cd32"/>
<rect x="52" y="250" width="3" height="42" fill="#32cd32"/>
<rect x="57" y="287" width="1" height="25" fill="#32cd32"/>
<rect x="56" y="292" width="3" height="5" fill="#32cd32"/>
<rect x="61" y="294" width="1" height="3" fill="#ff0000"/>
<rect x="60" y="295" width="3" height="1" fill="#ff0000"/>
<rect x="65" y="257" width="1" height="39" fill="#ff0000"/>
<rect x="64" y="261" width="3" height="35" fill="#ff0000"/>
<rect x="69" y="230" width="1" height="35" fill="#ff0000"/>
<rect x="68" y="242" width="3" height="21" fill="#ff0000"/>
<rect x="73" y="227" width="1" height="21" fill="#ff0000"/>
<rect x="72" y="230" width="3" height="12" fill="#ff0000"/>
<rect x="77" y="227" width="1" height="23" fill="#32cd32"/>
<rect x="76" y="228" width="3" height="20" fill="#32cd32"/>
<rect x="81" y="209" width="1" height="46" fill="#ff0000"/>
<rect x="80" y="211" width="3" height="36" fill="#ff0000"/>
<rect x="85" y="209" width="1" height="4" fill="#ff0000"/>
<rect x="84" y="210" width="3" height="2" fill="#ff0000"/>
<rect x="89" y="208" width="1" height="17" fill="#32cd32"/>
<rect x="88" y="210" width="3" height="13" fill="#32cd32"/>
<rect x="93" y="197" width="1" height="27" fill="#ff0000"/>
<rect x="92" y="209" width="3" height="14" fill="#ff0000"/>
<rect x="97" y="177" width="1" height="36" fill="#ff0000"/>
<rect x="96" y="185" width="3" height="24" fill="#ff0000"/>
<rect x="101" y="164" width="1" height="26" fill="#ff0000"/>
<rect x="100" y="170" width="3" height="16" fill="#ff0000"/>
<rect x="105" y="131" width="1" height="41" fill="#ff0000"/>
<rect x="104" y="140" width="3" height="30" fill="#ff0000"/>
<rect x="109" y="143" width="1" height="6" fill="#32cd32"/>
<rect x="108" y="144" width="3" height="4" fill="#32cd32"/>
<rect x="113" y="147" width="1" height="10" fill="#32cd32"/>
<rect x="112" y="148" width="3" height="4" fill="#32cd32"/>
<rect x="117" y="136" width="1" height="46" fill="#32cd32"/>
<rect x="116" y="151" width="3" height="24" fill="#32cd32"/>
<rect x="121" y="167" width="1" height="28" fill="#32cd32"/>
<rect x="120" y="175" width="3" height="14" fill="#32cd32"/>
<rect x="125" y="171" width="1" height="24" fill="#ff0000"/>
<rect x="124" y="184" width="3" height="5" fill="#ff0000"/>
<rect x="129" y="164" width="1" height="23" fill="#32cd32"/>
<rect x="128" y="184" width="3" height="3" fill="#32cd32"/>
<rect x="133" y="184" width="1" height="4" fill="#32cd32"/>
<rect x="132" y="185" width="3" height="1" fill="#32cd32"/>
<rect x="137" y="180" width="1" height="20" fill="#32cd32"/>
<rect x="136" y="185" width="3" height="1" fill="#32cd32"/>
<rect x="141" y="181" width="1" height="31" fill="#32cd32"/>
<rect x="140" y="185" width="3" height="25" fill="#32cd32"/>
<rect x="145" y="196" width="1" height="21" fill="#ff0000"/>
<rect x="144" y="197" width="3" height="12" fill="#ff0000"/>
<rect x="149" y="194" width="1" height="37" fill="#32cd32"/>
<rect x="148" y="196" width="3" height="26" fill="#32cd32"/>
<rect x="153" y="206" width="1" height="29" fill="#32cd32"/>
<rect x="152" y="221" width="3" height="11" fill="#32cd32"/>
<rect x="157" y="234" width="1" height="3" fill="#32cd32"/>
<rect x="156" y="234" width="3" height="2" fill="#32cd32"/>
<rect x="161" y="232" width="1" height="25" fill="#32cd32"/>
<rect x="160" y="235" width="3" height="3" fill="#32cd32"/>
<rect x="165" y="225" width="1" height="30" fill="#32cd32"/>
<rect x="164" y="237" width="3" height="16" fill="#32cd32"/>
<rect x="169" y="219" width="1" height="35" fill="#ff0000"/>
<rect x="168" y="250" width="3" height="3" fill="#ff0000"/>
<rect x="173" y="210" width="1" height="44" fill="#ff0000"/>
<rect x="172" y="219" width="3" height="32" fill="#ff0000"/>
<rect x="177" y="209" width="1" height="40" fill="#32cd32"/>
<rect x="176" y="218" width="3" height="21" fill="#32cd32"/>
<rect x="181" y="233" width="1" height="4" fill="#ff0000"/>
<rect x="180" y="234" width="3" height="2" fill="#ff0000"/>
<rect x="185" y="220" width="1" height="22" fill="#ff0000"/>
<rect x="184" y="227" width="3" height="8" fill="#ff0000"/>
<rect x="189" y="212" width="1" height="42" fill="#32cd32"/>
<rect x="188" y="226" width="3" height="18" fill="#32cd32"/>
<rect x="193" y="234" width="1" height="47" fill="#32cd32"/>
<rect x="192" y="244" width="3" height="32" fill="#32cd32"/>
<rect x="197" y="238" width="1" height="39" fill="#ff0000"/>
<rect x="196" y="251" width="3" height="25" fill="#ff0000"/>
<rect x="201" y="229" width="1" height="41" fill="#ff0000"/>
<rect x="200" y="233" width="3" height="20" fill="#ff0000"/>
<rect x="205" y="226" width="1" height="4" fill="#32cd32"/>
<rect x="204" y="227" width="3" height="2" fill="#32cd32"/>
<rect x="209" y="215" width="1" height="27" fill="#ff0000"/>
<rect x="208" y="222" width="3" height="8" fill="#ff0000"/>
<rect x="213" y="217" width="1" height="25" fill="#32cd32"/>
<rect x="212" y="222" width="3" height="2" fill="#32cd32"/>
<rect x="217" y="221" width="1" height="33" fill="#32cd32"/>
<rect x="216" y="223" width="3" height="4" fill="#32cd32"/>
<rect x="221" y="205" width="1" height="27" fill="#ff0000"/>
<rect x="220" y="209" width="3" height="18" fill="#ff0000"/>
<rect x="225" y="199" width="1" height="25" fill="#32cd32"/>
<rect x="224" y="209" width="3" height="3" fill="#32cd32"/>
<rect x="229" y="215" width="1" height="7" fill="#32cd32"/>
<rect x="228" y="215" width="3" height="5" fill="#32cd32"/>
<rect x="233" y="182" width="1" height="38" fill="#ff0000"/>
<rect x="232" y="194" width="3" height="26" fill="#ff0000"/>
<rect x="237" y="176" width="1" height="26" fill="#32cd32"/>
<rect x="236" y="194" width="3" height="8" fill="#32cd32"/>
<rect x="241" y="176" width="1" height="31" fill="#ff0000"/>
<rect x="240" y="177" width="3" height="25" fill="#ff0000"/>
<rect x="245" y="156" width="1" height="27" fill="#ff0000"/>
<rect x="244" y="162" width="3" height="15" fill="#ff0000"/>
<rect x="249" y="149" width="1" height="18" fill="#ff0000"/>
<rect x="248" y="159" width="3" height="3" fill="#ff0000"/>
<rect x="253" y="154" width="1" height="6" fill="#ff0000"/>
<rect x="252" y="157" width="3" height="2" fill="#ff0000"/>
<rect x="257" y="156" width="1" height="24" fill="#32cd32"/>
<rect x="256" y="156" width="3" height="6" fill="#32cd32"/>
<rect x="261" y="127" width="1" height="35" fill="#ff0000"/>
<rect x="260" y="132" width="3" height="30" fill="#ff0000"/>
<rect x="265" y="109" width="1" height="28" fill="#ff0000"/>
<rect x="264" y="113" width="3" height="20" fill="#ff0000"/>
<rect x="269" y="98" width="1" height="43" fill="#32cd32"/>
<rect x="268" y="113" width="3" height="26" fill="#32cd32"/>
<rect x="273" y="114" width="1" height="30" fill="#ff0000"/>
<rect x="272" y="137" width="3" height="2" fill="#ff0000"/>
<rect x="277" y="134" width="1" height="4" fill="#32cd32"/>
<rect x="276" y="135" width="3" height="2" fill="#32cd32"/>
<rect x="281" y="118" width="1" height="20" fill="#ff0000"/>
<rect x="280" y="125" width="3" height="10" fill="#ff0000"/>
<rect x="285" y="108" width="1" height="18" fill="#ff0000"/>
<rect x="284" y="114" width="3" height="11" fill="#ff0000"/>
<rect x="289" y="103" width="1" height="24" fill="#32cd32"/>
<rect x="288" y="114" width="3" height="7" fill="#32cd32"/>
<rect x="293" y="93" width="1" height="38" fill="#ff0000"/>
<rect x="292" y="105" width="3" height="16" fill="#ff0000"/>
<rect x="297" y="94" width="1" height="27" fill="#32cd32"/>
<rect x="296" y="105" width="3" height="4" fill="#32cd32"/>
<rect x="301" y="111" width="1" height="5" fill="#ff0000"/>
<rect x="300" y="112" width="3" height="2" fill="#ff0000"/>
<rect x="305" y="103" width="1" height="24" fill="#ff0000"/>
<rect x="304" y="111" width="3" height="1" fill="#ff0000"/>
<rect x="309" y="105" width="1" height="55" fill="#32cd32"/>
<rect x="308" y="110" width="3" height="42" fill="#32cd32"/>
<rect x="313" y="134" width="1" height="30" fill="#ff0000"/>
<rect x="312" y="135" width="3" height="17" fill="#ff0000"/>
<rect x="317" y="134" width="1" height="43" fill="#32cd32"/>
<rect x="316" y="135" width="3" height="31" fill="#32cd32"/>
<rect x="321" y="163" width="1" height="25" fill="#32cd32"/>
<rect x="320" y="165" width="3" height="8" fill="#32cd32"/>
<rect x="325" y="169" width="1" height="3" fill="#32cd32"/>
<rect x="324" y="170" width="3" height="2" fill="#32cd32"/>
<rect x="329" y="154" width="1" height="22" fill="#ff0000"/>
<rect x="328" y="162" width="3" height="9" fill="#ff0000"/>
<rect x="333" y="154" width="1" height="34" fill="#32cd32"/>
<rect x="332" y="162" width="3" height="18" fill="#32cd32"/>
<rect x="337" y="172" width="1" height="35" fill="#32cd32"/>
<rect x="336" y="180" width="3" height="22" fill="#32cd32"/>
<rect x="341" y="197" width="1" height="27" fill="#32cd32"/>
<rect x="340" y="201" width="3" height="22" fill="#32cd32"/>
<rect x="345" y="201" width="1" height="28" fill="#ff0000"/>
<rect x="344" y="203" width="3" height="19" fill="#ff0000"/>
<rect x="349" y="200" width="1" height="4" fill="#ff0000"/>
<rect x="348" y="201" width="3" height="2" fill="#ff0000"/>
<rect x="353" y="183" width="1" height="24" fill="#ff0000"/>
<rect x="352" y="195" width="3" height="7" fill="#ff0000"/>
<rect x="357" y="184" width="1" height="38" fill="#32cd32"/>
<rect x="356" y="195" width="3" height="23" fill="#32cd32"/>
<rect x="361" y="215" width="1" height="22" fill="#32cd32"/>
<rect x="360" y="217" width="3" height="15" fill="#32cd32"/>
<rect x="365" y="220" width="1" height="21" fill="#ff0000"/>
<rect x="364" y="229" width="3" height="3" fill="#ff0000"/>
<rect x="369" y="221" width="1" height="31" fill="#32cd32"/>
<rect x="368" y="229" width="3" height="21" fill="#32cd32"/>
<rect x="373" y="248" width="1" height="5" fill="#ff0000"/>
<rect x="372" y="250" width="3" height="2" fill="#ff0000"/>
<rect x="377" y="230" width="1" height="26" fill="#32cd32"/>
<rect x="376" y="250" width="3" height="2" fill="#32cd32"/>
<rect x="381" y="248" width="1" height="15" fill="#32cd32"/>
<rect x="380" y="252" width="3" height="4" fill="#32cd32"/>
<rect x="385" y="252" width="1" height="22" fill="#32cd32"/>
<rect x="384" y="255" width="3" height="10" fill="#32cd32"/>
<rect x="389" y="261" width="1" height="19" fill="#32cd32"/>
<rect x="388" y="265" width="3" height="14" fill="#32cd32"/>
<rect x="393" y="276" width="1" height="33" fill="#32cd32"/>
<rect x="392" y="278" width="3" height="28" fill="#32cd32"/>
<rect x="397" y="292" width="1" height="14" fill="#ff0000"/>
<rect x="396" y="293" width="3" height="13" fill="#ff0000"/>
<rect x="401" y="285" width="1" height="23" fill="#ff0000"/>
<rect x="400" y="292" width="3" height="2" fill="#ff0000"/>
<rect x="405" y="280" width="1" height="53" fill="#32cd32"/>
<rect x="404" y="292" width="3" height="11" fill="#32cd32"/>
<rect x="409" y="279" width="1" height="37" fill="#32cd32"/>
<rect x="408" y="302" width="3" height="8" fill="#32cd32"/>
<rect x="413" y="304" width="1" height="19" fill="#32cd32"/>
<rect x="412" y="310" width="3" height="11" fill="#32cd32"/>
<rect x="417" y="319" width="1" height="46" fill="#32cd32"/>
<rect x="416" y="320" width="3" height="45" fill="#32cd32"/>
<rect x="421" y="352" width="1" height="11" fill="#ff0000"/>
<rect x="420" y="354" width="3" height="8" fill="#ff0000"/>
<rect x="425" y="336" width="1" height="24" fill="#ff0000"/>
<rect x="424" y="339" width="3" height="16" fill="#ff0000"/>
<rect x="429" y="302" width="1" height="42" fill="#ff0000"/>
<rect x="428" y="303" width="3" height="36" fill="#ff0000"/>
<rect x="433" y="273" width="1" height="34" fill="#ff0000"/>
<rect x="432" y="281" width="3" height="23" fill="#ff0000"/>
<rect x="437" y="272" width="1" height="26" fill="#32cd32"/>
<rect x="436" y="281" width="3" height="12" fill="#32cd32"/>
<rect x="441" y="274" width="1" height="25" fill="#ff0000"/>
<rect x="440" y="281" width="3" height="10" fill="#ff0000"/>
<rect x="445" y="279" width="1" height="7" fill="#ff0000"/>
<rect x="444" y="282" width="3" height="3" fill="#ff0000"/>
<rect x="449" y="277" width="1" height="33" fill="#32cd32"/>
<rect x="448" y="282" width="3" height="17" fill="#32cd32"/>
<rect x="453" y="297" width="1" height="23" fill="#32cd32"/>
<rect x="452" y="299" width="3" height="14" fill="#32cd32"/>
<rect x="457" y="276" width="1" height="43" fill="#ff0000"/>
<rect x="456" y="282" width="3" height="31" fill="#ff0000"/>
<rect x="461" y="254" width="1" height="38" fill="#ff0000"/>
<rect x="460" y="278" width="3" height="4" fill="#ff0000"/>
<rect x="465" y="274" width="1" height="25" fill="#32cd32"/>
<rect x="464" y="277" width="3" height="21" fill="#32cd32"/>
<rect x="469" y="300" width="1" height="10" fill="#32cd32"/>
<rect x="468" y="300" width="3" height="6" fill="#32cd32"/>
<rect x="473" y="300" width="1" height="23" fill="#32cd32"/>
<rect x="472" y="306" width="3" height="4" fill="#32cd32"/>
<rect x="477" y="288" width="1" height="28" fill="#ff0000"/>
<rect x="476" y="291" width="3" height="19" fill="#ff0000"/>
<rect x="481" y="256" width="1" height="46" fill="#ff0000"/>
<rect x="480" y="260" width="3" height="31" fill="#ff0000"/>
<rect x="485" y="241" width="1" height="27" fill="#ff0000"/>
<rect x="484" y="250" width="3" height="11" fill="#ff0000"/>
<rect x="489" y="244" width="1" height="15" fill="#32cd32"/>
<rect x="488" y="250" width="3" height="2" fill="#32cd32"/>
<rect x="493" y="248" width="1" height="4" fill="#000000"/>
<rect x="492" y="251" width="3" height="1" fill="#000000"/>
<rect x="497" y="244" width="1" height="20" fill="#ff0000"/>
<rect x="496" y="248" width="3" height="4" fill="#ff0000"/>
<rect x="501" y="235" width="1" height="22" fill="#32cd32"/>
<rect x="500" y="248" width="3" height="3" fill="#32cd32"/>
<rect x="505" y="230" width="1" height="30" fill="#ff0000"/>
<rect x="504" y="237" width="3" height="14" fill="#ff0000"/>
<rect x="509" y="229" width="1" height="16" fill="#32cd32"/>
<rect x="508" y="237" width="3" height="6" fill="#32cd32"/>
<rect x="513" y="228" width="1" height="17" fill="#ff0000"/>
<rect x="512" y="231" width="3" height="12" fill="#ff0000"/>
<rect x="517" y="230" width="1" height="3" fill="#ff0000"/>
<rect x="516" y="232" width="3" height="1" fill="#ff0000"/>
<rect x="521" y="228" width="1" height="46" fill="#32cd32"/>
<rect x="520" y="233" width="3" height="35" fill="#32cd32"/>
<rect x="525" y="242" width="1" height="32" fill="#ff0000"/>
<rect x="524" y="247" width="3" height="21" fill="#ff0000"/>
<rect x="529" y="230" width="1" height="28" fill="#32cd32"/>
<rect x="528" y="247" width="3" height="9" fill="#32cd32"/>
<rect x="533" y="255" width="1" height="37" fill="#32cd32"/>
<rect x="532" y="256" width="3" height="29" fill="#32cd32"/>
<rect x="537" y="271" width="1" height="29" fill="#ff0000"/>
<rect x="536" y="273" width="3" height="12" fill="#ff0000"/>
<rect x="541" y="273" width="1" height="7" fill="#ff0000"/>
<rect x="540" y="276" width="3" height="1" fill="#ff0000"/>
<rect x="545" y="264" width="1" height="27" fill="#ff0000"/>
<rect x="544" y="275" width="3" height="2" fill="#ff0000"/>
<rect x="549" y="260" width="1" height="28" fill="#ff0000"/>
<rect x="548" y="261" width="3" height="15" fill="#ff0000"/>
<rect x="553" y="221" width="1" height="44" fill="#ff0000"/>
<rect x="552" y="226" width="3" height="36" fill="#ff0000"/>
<rect x="557" y="215" width="1" height="16" fill="#ff0000"/>
<rect x="556" y="226" width="3" height="2" fill="#ff0000"/>
<rect x="561" y="220" width="1" height="47" fill="#32cd32"/>
<rect x="560" y="228" width="3" height="35" fill="#32cd32"/>
<rect x="565" y="257" width="1" height="5" fill="#ff0000"/>
<rect x="564" y="260" width="3" height="2" fill="#ff0000"/>
<rect x="569" y="251" width="1" height="18" fill="#32cd32"/>
<rect x="568" y="258" width="3" height="3" fill="#32cd32"/>
<rect x="573" y="252" width="1" height="29" fill="#32cd32"/>
<rect x="572" y="260" width="3" height="13" fill="#32cd32"/>
<rect x="577" y="247" width="1" height="31" fill="#ff0000"/>
<rect x="576" y="258" width="3" height="14" fill="#ff0000"/>
<rect x="581" y="228" width="1" height="36" fill="#32cd32"/>
<rect x="580" y="257" width="3" height="3" fill="#32cd32"/>
<rect x="585" y="256" width="1" height="23" fill="#32cd32"/>
<rect x="584" y="257" width="3" height="21" fill="#32cd32"/>
<rect x="589" y="272" width="1" height="7" fill="#ff0000"/>
<rect x="588" y="272" width="3" height="6" fill="#ff0000"/>
<rect x="593" y="272" width="1" height="47" fill="#32cd32"/>
<rect x="592" y="272" width="3" height="16" fill="#32cd32"/>
<rect x="597" y="277" width="1" height="27" fill="#ff0000"/>
<rect x="596" y="286" width="3" height="3" fill="#ff0000"/>
<rect x="601" y="275" width="1" height="42" fill="#32cd32"/>
<rect x="600" y="286" width="3" height="19" fill="#32cd32"/>
<rect x="605" y="304" width="1" height="48" fill="#32cd32"/>
<rect x="604" y="304" width="3" height="42" fill="#32cd32"/>
<rect x="609" y="340" width="1" height="39" fill="#32cd32"/>
<rect x="608" y="345" width="3" height="27" fill="#32cd32"/>
<rect x="613" y="364" width="1" height="4" fill="#ff0000"/>
<rect x="612" y="364" width="3" height="2" fill="#ff0000"/>
<rect x="617" y="325" width="1" height="42" fill="#ff0000"/>
<rect x="616" y="329" width="3" height="36" fill="#ff0000"/>
<rect x="621" y="295" width="1" height="52" fill="#ff0000"/>
<rect x="620" y="297" width="3" height="33" fill="#ff0000"/>
<rect x="625" y="286" width="1" height="20" fill="#32cd32"/>
<rect x="624" y="297" width="3" height="8" fill="#32cd32"/>
<rect x="629" y="281" width="1" height="29" fill="#ff0000"/>
<rect x="628" y="293" width="3" height="12" fill="#ff0000"/>
<rect x="633" y="289" width="1" height="49" fill="#32cd32"/>
<rect x="632" y="294" width="3" height="33" fill="#32cd32"/>
<rect x="637" y="321" width="1" height="5" fill="#32cd32"/>
<rect x="636" y="323" width="3" height="2" fill="#32cd32"/>
<rect x="641" y="299" width="1" height="33" fill="#ff0000"/>
<rect x="640" y="301" width="3" height="23" fill="#ff0000"/>
<rect x="645" y="290" width="1" height="18" fill="#ff0000"/>
<rect x="644" y="292" width="3" height="9" fill="#ff0000"/>
<rect x="649" y="268" width="1" height="26" fill="#ff0000"/>
<rect x="648" y="277" width="3" height="15" fill="#ff0000"/>
<rect x="653" y="241" width="1" height="51" fill="#32cd32"/>
<rect x="652" y="277" width="3" height="8" fill="#32cd32"/>
<rect x="657" y="273" width="1" height="37" fill="#32cd32"/>
<rect x="656" y="284" width="3" height="19" fill="#32cd32"/>
<rect x="661" y="291" width="1" height="9" fill="#ff0000"/>
<rect x="660" y="292" width="3" height="8" fill="#ff0000"/>
<rect x="665" y="291" width="1" height="31" fill="#32cd32"/>
<rect x="664" y="292" width="3" height="7" fill="#32cd32"/>
<rect x="669" y="286" width="1" height="28" fill="#ff0000"/>
<rect x="668" y="291" width="3" height="8" fill="#ff0000"/>
<rect x="673" y="262" width="1" height="32" fill="#ff0000"/>
<rect x="672" y="269" width="3" height="22" fill="#ff0000"/>
<rect x="677" y="257" width="1" height="33" fill="#32cd32"/>
<rect x="676" y="269" width="3" height="4" fill="#32cd32"/>
<rect x="681" y="252" width="1" height="30" fill="#32cd32"/>
<rect x="680" y="272" width="3" height="2" fill="#32cd32"/>
<rect x="685" y="277" width="1" height="5" fill="#32cd32"/>
<rect x="684" y="278" width="3" height="2" fill="#32cd32"/>
<rect x="689" y="255" width="1" height="26" fill="#ff0000"/>
<rect x="688" y="273" width="3" height="7" fill="#ff0000"/>
<rect x="693" y="249" width="1" height="26" fill="#ff0000"/>
<rect x="692" y="253" width="3" height="21" fill="#ff0000"/>
<rect x="697" y="225" width="1" height="32" fill="#ff0000"/>
<rect x="696" y="252" width="3" height="1" fill="#ff0000"/>
<rect x="701" y="251" width="1" height="65" fill="#32cd32"/>
<rect x="700" y="252" width="3" height="34" fill="#32cd32"/>
<rect x="705" y="247" width="1" height="48" fill="#ff0000"/>
<rect x="704" y="250" width="3" height="36" fill="#ff0000"/>
<rect x="709" y="272" width="1" height="8" fill="#ff0000"/>
<rect x="708" y="273" width="3" height="4" fill="#ff0000"/>
<rect x="713" y="233" width="1" height="48" fill="#ff0000"/>
<rect x="712" y="237" width="3" height="36" fill="#ff0000"/>
<rect x="717" y="222" width="1" height="26" fill="#ff0000"/>
<rect x="716" y="236" width="3" height="2" fill="#ff0000"/>
<rect x="721" y="214" width="1" height="31" fill="#ff0000"/>
<rect x="720" y="221" width="3" height="15" fill="#ff0000"/>
<rect x="725" y="194" width="1" height="36" fill="#ff0000"/>
<rect x="724" y="200" width="3" height="21" fill="#ff0000"/>
<rect x="729" y="178" width="1" height="40" fill="#ff0000"/>
<rect x="728" y="183" width="3" height="17" fill="#ff0000"/>
<rect x="733" y="170" width="1" height="22" fill="#ff0000"/>
<rect x="732" y="172" width="3" height="12" fill="#ff0000"/>
<rect x="737" y="149" width="1" height="64" fill="#32cd32"/>
<rect x="736" y="172" width="3" height="32" fill="#32cd32"/>
<rect x="741" y="194" width="1" height="51" fill="#32cd32"/>
<rect x="740" y="203" width="3" height="31" fill="#32cd32"/>
<rect x="745" y="199" width="1" height="35" fill="#ff0000"/>
<rect x="744" y="209" width="3" height="25" fill="#ff0000"/>
<rect x="749" y="184" width="1" height="39" fill="#ff0000"/>
<rect x="748" y="186" width="3" height="24" fill="#ff0000"/>
<rect x="753" y="184" width="1" height="36" fill="#32cd32"/>
<rect x="752" y="185" width="3" height="35" fill="#32cd32"/>
<rect x="757" y="218" width="1" height="5" fill="#ff0000"/>
<rect x="756" y="219" width="3" height="3" fill="#ff0000"/>
<rect x="761" y="218" width="1" height="55" fill="#32cd32"/>
<rect x="760" y="219" width="3" height="47" fill="#32cd32"/>
<rect x="765" y="252" width="1" height="30" fill="#32cd32"/>
<rect x="764" y="266" width="3" height="5" fill="#32cd32"/>
<rect x="769" y="220" width="1" height="55" fill="#ff0000"/>
<rect x="768" y="224" width="3" height="47" fill="#ff0000"/>
<rect x="773" y="172" width="1" height="54" fill="#ff0000"/>
<rect x="772" y="178" width="3" height="46" fill="#ff0000"/>
<rect x="777" y="160" width="1" height="29" fill="#ff0000"/>
<rect x="776" y="165" width="3" height="14" fill="#ff0000"/>
<rect x="781" y="161" width="1" height="6" fill="#ff0000"/>
<rect x="780" y="162" width="3" height="4" fill="#ff0000"/>
<rect x="785" y="157" width="1" height="25" fill="#32cd32"/>
<rect x="784" y="164" width="3" height="8" fill="#32cd32"/>
<rect x="789" y="132" width="1" height="49" fill="#ff0000"/>
<rect x="788" y="139" width="3" height="33" fill="#ff0000"/>
<rect x="793" y="117" width="1" height="27" fill="#ff0000"/>
<rect x="792" y="121" width="3" height="19" fill="#ff0000"/>
<rect x="797" y="107" width="1" height="31" fill="#ff0000"/>
<rect x="796" y="115" width="3" height="7" fill="#ff0000"/>
<rect x="801" y="103" width="1" height="21" fill="#ff0000"/>
<rect x="800" y="110" width="3" height="6" fill="#ff0000"/>
<rect x="805" y="110" width="1" height="5" fill="#ff0000"/>
<rect x="804" y="111" width="3" height="3" fill="#ff0000"/>
<rect x="809" y="101" width="1" height="37" fill="#32cd32"/>
<rect x="808" y="112" width="3" height="11" fill="#32cd32"/>
<rect x="813" y="108" width="1" height="35" fill="#ff0000"/>
<rect x="812" y="113" width="3" height="10" fill="#ff0000"/>
<rect x="817" y="103" width="1" height="21" fill="#32cd32"/>
<rect x="816" y="114" width="3" height="7" fill="#32cd32"/>
<rect x="821" y="108" width="1" height="28" fill="#32cd32"/>
<rect x="820" y="119" width="3" height="5" fill="#32cd32"/>
<rect x="825" y="108" width="1" height="26" fill="#ff0000"/>
<rect x="824" y="122" width="3" height="2" fill="#ff0000"/>
<rect x="829" y="123" width="1" height="5" fill="#32cd32"/>
<rect x="828" y="125" width="3" height="3" fill="#32cd32"/>
<rect x="833" y="93" width="1" height="37" fill="#ff0000"/>
<rect x="832" y="99" width="3" height="29" fill="#ff0000"/>
<rect x="837" y="42" width="1" height="62" fill="#ff0000"/>
<rect x="836" y="79" width="3" height="22" fill="#ff0000"/>
<rect x="841" y="75" width="1" height="53" fill="#32cd32"/>
<rect x="840" y="78" width="3" height="40" fill="#32cd32"/>
<rect x="845" y="114" width="1" height="23" fill="#32cd32"/>
<rect x="844" y="117" width="3" height="15" fill="#32cd32"/>
<rect x="849" y="124" width="1" height="33" fill="#32cd32"/>
<rect x="848" y="131" width="3" height="9" fill="#32cd32"/>
<rect x="853" y="138" width="1" height="10" fill="#32cd32"/>
<rect x="852" y="139" width="3" height="9" fill="#32cd32"/>
<rect x="857" y="139" width="1" height="25" fill="#32cd32"/>
<rect x="856" y="147" width="3" height="16" fill="#32cd32"/>
<rect x="861" y="123" width="1" height="47" fill="#ff0000"/>
<rect x="860" y="143" width="3" height="19" fill="#ff0000"/>
<rect x="865" y="133" width="1" height="41" fill="#32cd32"/>
<rect x="864" y="143" width="3" height="1" fill="#32cd32"/>
<rect x="869" y="136" width="1" height="35" fill="#32cd32"/>
<rect x="868" y="143" width="3" height="23" fill="#32cd32"/>
<rect x="873" y="162" width="1" height="12" fill="#32cd32"/>
<rect x="872" y="165" width="3" height="9" fill="#32cd32"/>
<rect x="877" y="167" width="1" height="6" fill="#32cd32"/>
<rect x="876" y="168" width="3" height="3" fill="#32cd32"/>
<rect x="881" y="169" width="1" height="28" fill="#32cd32"/>
<rect x="880" y="170" width="3" height="20" fill="#32cd32"/>
<rect x="885" y="168" width="1" height="28" fill="#ff0000"/>
<rect x="884" y="172" width="3" height="18" fill="#ff0000"/>
<rect x="889" y="142" width="1" height="40" fill="#ff0000"/>
<rect x="888" y="147" width="3" height="25" fill="#ff0000"/>
<rect x="893" y="141" width="1" height="47" fill="#32cd32"/>
<rect x="892" y="147" width="3" height="41" fill="#32cd32"/>
<rect x="897" y="184" width="1" height="66" fill="#32cd32"/>
<rect x="896" y="188" width="3" height="60" fill="#32cd32"/>
<rect x="901" y="245" width="1" height="6" fill="#32cd32"/>
<rect x="900" y="245" width="3" height="6" fill="#32cd32"/>
<rect x="905" y="249" width="1" height="49" fill="#32cd32"/>
<rect x="904" y="250" width="3" height="28" fill="#32cd32"/>
<rect x="909" y="252" width="1" height="54" fill="#32cd32"/>
<rect x="908" y="277" width="3" height="18" fill="#32cd32"/>
<rect x="913" y="291" width="1" height="4" fill="#ff0000"/>
<rect x="912" y="292" width="3" height="3" fill="#ff0000"/>
<rect x="4" y="420" width="3" height="12" fill="#c0c0c0"/>
<rect x="8" y="420" width="3" height="12" fill="#c0c0c0"/>
<rect x="12" y="420" width="3" height="13" fill="#c0c0c0"/>
<rect x="16" y="420" width="3" height="13" fill="#c0c0c0"/>
<rect x="20" y="420" width="3" height="13" fill="#c0c0c0"/>
<rect x="24" y="420" width="3" height="12" fill="#c0c0c0"/>
<rect x="28" y="420" width="3" height="11" fill="#c0c0c0"/>
<rect x="32" y="420" width="3" height="10" fill="#c0c0c0"/>
<rect x="36" y="420" width="3" height="9" fill="#c0c0c0"/>
<rect x="40" y="420" width="3" height="9" fill="#c0c0c0"/>
<rect x="44" y="420" width="3" height="12" fill="#c0c0c0"/>
<rect x="48" y="420" width="3" height="14" fill="#c0c0c0"/>
<rect x="52" y="420" width="3" height="19" fill="#c0c0c0"/>
<rect x="56" y="420" width="3" height="22" fill="#c0c0c0"/>
<rect x="60" y="420" width="3" height="24" fill="#c0c0c0"/>
<rect x="64" y="420" width="3" height="24" fill="#c0c0c0"/>
<rect x="68" y="420" width="3" height="22" fill="#c0c0c0"/>
<rect x="72" y="420" width="3" height="20" fill="#c0c0c0"/>
<rect x="76" y="420" width="3" height="19" fill="#c0c0c0"/>
<rect x="80" y="420" width="3" height="16" fill="#c0c0c0"/>
<rect x="84" y="420" width="3" height="13" fill="#c0c0c0"/>
<rect x="88" y="420" width="3" height="11" fill="#c0c0c0"/>
<rect x="92" y="420" width="3" height="9" fill="#c0c0c0"/>
<rect x="96" y="420" width="3" height="6" fill="#c0c0c0"/>
<rect x="100" y="420" width="3" height="2" fill="#c0c0c0"/>
<rect x="104" y="417" width="3" height="3" fill="#c0c0c0"/>
<rect x="108" y="414" width="3" height="6" fill="#c0c0c0"/>
<rect x="112" y="411" width="3" height="9" fill="#c0c0c0"/>
<rect x="116" y="411" width="3" height="9" fill="#c0c0c0"/>
<rect x="120" y="412" width="3" height="8" fill="#c0c0c0"/>
<rect x="124" y="413" width="3" height="7" fill="#c0c0c0"/>
<rect x="128" y="413" width="3" height="7" fill="#c0c0c0"/>
<rect x="132" y="414" width="3" height="6" fill="#c0c0c0"/>
<rect x="136" y="414" width="3" height="6" fill="#c0c0c0"/>
<rect x="140" y="416" width="3" height="4" fill="#c0c0c0"/>
<rect x="144" y="417" width="3" height="3" fill="#c0c0c0"/>
<rect x="148" y="419" width="3" height="1" fill="#c0c0c0"/>
<rect x="152" y="420" width="3" height="2" fill="#c0c0c0"/>
<rect x="156" y="420" width="3" height="4" fill="#c0c0c0"/>
<rect x="160" y="420" width="3" height="6" fill="#c0c0c0"/>
<rect x="164" y="420" width="3" height="8" fill="#c0c0c0"/>
<rect x="168" y="420" width="3" height="9" fill="#c0c0c0"/>
<rect x="172" y="420" width="3" height="9" fill="#c0c0c0"/>
<rect x="176" y="420" width="3" height="9" fill="#c0c0c0"/>
<rect x="180" y="420" width="3" height="9" fill="#c0c0c0"/>
<rect x="184" y="420" width="3" height="9" fill="#c0c0c0"/>
<rect x="188" y="420" width="3" height="9" fill="#c0c0c0"/>
<rect x="192" y="420" width="3" height="11" fill="#c0c0c0"/>
<rect x="196" y="420" width="3" height="11" fill="#c0c0c0"/>
<rect x="200" y="420" width="3" height="10" fill="#c0c0c0"/>
<rect x="204" y="420" width="3" height="9" fill="#c0c0c0"/>
<rect x="208" y="420" width="3" height="8" fill="#c0c0c0"/>
<rect x="212" y="420" width="3" height="7" fill="#c0c0c0"/>
<rect x="216" y="420" width="3" height="6" fill="#c0c0c0"/>
<rect x="220" y="420" width="3" height="4" fill="#c0c0c0"/>
<rect x="224" y="420" width="3" height="3" fill="#c0c0c0"/>
<rect x="228" y="420" width="3" height="2" fill="#c0c0c0"/>
<rect x="232" y="419" width="3" height="1" fill="#c0c0c0"/>
<rect x="236" y="418" width="3" height="2" fill="#c0c0c0"/>
<rect x="240" y="416" width="3" height="4" fill="#c0c0c0"/>
<rect x="244" y="413" width="3" height="7" fill="#c0c0c0"/>
<rect x="248" y="411" width="3" height="9" fill="#c0c0c0"/>
<rect x="252" y="409" width="3" height="11" fill="#c0c0c0"/>
<rect x="256" y="408" width="3" height="12" fill="#c0c0c0"/>
<rect x="260" y="406" width="3" height="14" fill="#c0c0c0"/>
<rect x="264" y="403" width="3" height="17" fill="#c0c0c0"/>
<rect x="268" y="402" width="3" height="18" fill="#c0c0c0"/>
<rect x="272" y="402" width="3" height="18" fill="#c0c0c0"/>
<rect x="276" y="402" width="3" height="18" fill="#c0c0c0"/>
<rect x="280" y="401" width="3" height="19" fill="#c0c0c0"/>
<rect x="284" y="401" width="3" height="19" fill="#c0c0c0"/>
<rect x="288" y="400" width="3" height="20" fill="#c0c0c0"/>
<rect x="292" y="400" width="3" height="20" fill="#c0c0c0"/>
<rect x="296" y="399" width="3" height="21" fill="#c0c0c0"/>
<rect x="300" y="400" width="3" height="20" fill="#c0c0c0"/>
<rect x="304" y="400" width="3" height="20" fill="#c0c0c0"/>
<rect x="308" y="403" width="3" height="17" fill="#c0c0c0"/>
<rect x="312" y="405" width="3" height="15" fill="#c0c0c0"/>
<rect x="316" y="408" width="3" height="12" fill="#c0c0c0"/>
<rect x="320" y="411" width="3" height="9" fill="#c0c0c0"/>
<rect x="324" y="413" width="3" height="7" fill="#c0c0c0"/>
<rect x="328" y="415" width="3" height="5" fill="#c0c0c0"/>
<rect x="332" y="417" width="3" height="3" fill="#c0c0c0"/>
<rect x="336" y="420" width="3" height="1" fill="#c0c0c0"/>
<rect x="340" y="420" width="3" height="5" fill="#c0c0c0"/>
<rect x="344" y="420" width="3" height="7" fill="#c0c0c0"/>
<rect x="348" y="420" width="3" height="8" fill="#c0c0c0"/>
<rect x="352" y="420" width="3" height="8" fill="#c0c0c0"/>
<rect x="356" y="420" width="3" height="10" fill="#c0c0c0"/>
<rect x="360" y="420" width="3" height="12" fill="#c0c0c0"/>
<rect x="364" y="420" width="3" height="13" fill="#c0c0c0"/>
<rect x="368" y="420" width="3" height="15" fill="#c0c0c0"/>
<rect x="372" y="420" width="3" height="17" fill="#c0c0c0"/>
<rect x="376" y="420" width="3" height="18" fill="#c0c0c0"/>
<rect x="380" y="420" width="3" height="19" fill="#c0c0c0"/>
<rect x="384" y="420" width="3" height="20" fill="#c0c0c0"/>
<rect x="388" y="420" width="3" height="21" fill="#c0c0c0"/>
<rect x="392" y="420" width="3" height="24" fill="#c0c0c0"/>
<rect x="396" y="420" width="3" height="25" fill="#c0c0c0"/>
<rect x="400" y="420" width="3" height="25" fill="#c0c0c0"/>
<rect x="404" y="420" width="3" height="26" fill="#c0c0c0"/>
<rect x="408" y="420" width="3" height="27" fill="#c0c0c0"/>
<rect x="412" y="420" width="3" height="28" fill="#c0c0c0"/>
<rect x="416" y="420" width="3" height="31" fill="#c0c0c0"/>
<rect x="420" y="420" width="3" height="32" fill="#c0c0c0"/>
<rect x="424" y="420" width="3" height="32" fill="#c0c0c0"/>
<rect x="428" y="420" width="3" height="29" fill="#c0c0c0"/>
<rect x="432" y="420" width="3" height="26" fill="#c0c0c0"/>
<rect x="436" y="420" width="3" height="23" fill="#c0c0c0"/>
<rect x="440" y="420" width="3" height="20" fill="#c0c0c0"/>
<rect x="444" y="420" width="3" height="18" fill="#c0c0c0"/>
<rect x="448" y="420" width="3" height="17" fill="#c0c0c0"/>
<rect x="452" y="420" width="3" height="16" fill="#c0c0c0"/>
<rect x="456" y="420" width="3" height="14" fill="#c0c0c0"/>
<rect x="460" y="420" width="3" height="12" fill="#c0c0c0"/>
<rect x="464" y="420" width="3" height="12" fill="#c0c0c0"/>
<rect x="468" y="420" width="3" height="11" fill="#c0c0c0"/>
<rect x="472" y="420" width="3" height="12" fill="#c0c0c0"/>
<rect x="476" y="420" width="3" height="10" fill="#c0c0c0"/>
<rect x="480" y="420" width="3" height="7" fill="#c0c0c0"/>
<rect x="484" y="420" width="3" height="4" fill="#c0c0c0"/>
<rect x="488" y="420" width="3" height="2" fill="#c0c0c0"/>
<rect x="492" y="419" width="3" height="1" fill="#c0c0c0"/>
<rect x="496" y="418" width="3" height="2" fill="#c0c0c0"/>
<rect x="500" y="416" width="3" height="4" fill="#c0c0c0"/>
<rect x="504" y="415" width="3" height="5" fill="#c0c0c0"/>
<rect x="508" y="414" width="3" height="6" fill="#c0c0c0"/>
<rect x="512" y="413" width="3" height="7" fill="#c0c0c0"/>
<rect x="516" y="412" width="3" height="8" fill="#c0c0c0"/>
<rect x="520" y="413" width="3" height="7" fill="#c0c0c0"/>
<rect x="524" y="413" width="3" height="7" fill="#c0c0c0"/>
<rect x="528" y="414" width="3" height="6" fill="#c0c0c0"/>
<rect x="532" y="416" width="3" height="4" fill="#c0c0c0"/>
<rect x="536" y="417" width="3" height="3" fill="#c0c0c0"/>
<rect x="540" y="418" width="3" height="2" fill="#c0c0c0"/>
<rect x="544" y="419" width="3" height="1" fill="#c0c0c0"/>
<rect x="548" y="419" width="3" height="1" fill="#c0c0c0"/>
<rect x="552" y="417" width="3" height="3" fill="#c0c0c0"/>
<rect x="556" y="415" width="3" height="5" fill="#c0c0c0"/>
<rect x="560" y="416" width="3" height="4" fill="#c0c0c0"/>
<rect x="564" y="417" width="3" height="3" fill="#c0c0c0"/>
<rect x="568" y="417" width="3" height="3" fill="#c0c0c0"/>
<rect x="572" y="418" width="3" height="2" fill="#c0c0c0"/>
<rect x="576" y="418" width="3" height="2" fill="#c0c0c0"/>
<rect x="580" y="418" width="3" height="2" fill="#c0c0c0"/>
<rect x="584" y="420" width="3" height="1" fill="#c0c0c0"/>
<rect x="588" y="420" width="3" height="1" fill="#c0c0c0"/>
<rect x="592" y="420" width="3" height="3" fill="#c0c0c0"/>
<rect x="596" y="420" width="3" height="4" fill="#c0c0c0"/>
<rect x="600" y="420" width="3" height="6" fill="#c0c0c0"/>
<rect x="604" y="420" width="3" height="10" fill="#c0c0c0"/>
<rect x="608" y="420" width="3" height="14" fill="#c0c0c0"/>
<rect x="612" y="420" width="3" height="17" fill="#c0c0c0"/>
<rect x="616" y="420" width="3" height="17" fill="#c0c0c0"/>
<rect x="620" y="420" width="3" height="15" fill="#c0c0c0"/>
<rect x="624" y="420" width="3" height="14" fill="#c0c0c0"/>
<rect x="628" y="420" width="3" height="12" fill="#c0c0c0"/>
<rect x="632" y="420" width="3" height="12" fill="#c0c0c0"/>
<rect x="636" y="420" width="3" height="12" fill="#c0c0c0"/>
<rect x="640" y="420" width="3" height="11" fill="#c0c0c0"/>
<rect x="644" y="420" width="3" height="9" fill="#c0c0c0"/>
<rect x="648" y="420" width="3" height="6" fill="#c0c0c0"/>
<rect x="652" y="420" width="3" height="5" fill="#c0c0c0"/>
<rect x="656" y="420" width="3" height="5" fill="#c0c0c0"/>
<rect x="660" y="420" width="3" height="4" fill="#c0c0c0"/>
<rect x="664" y="420" width="3" height="4" fill="#c0c0c0"/>
<rect x="668" y="420" width="3" height="3" fill="#c0c0c0"/>
<rect x="672" y="420" width="3" height="1" fill="#c0c0c0"/>
<rect x="676" y="419" width="3" height="1" fill="#c0c0c0"/>
<rect x="680" y="418" width="3" height="2" fill="#c0c0c0"/>
<rect x="684" y="417" width="3" height="3" fill="#c0c0c0"/>
<rect x="688" y="417" width="3" height="3" fill="#c0c0c0"/>
<rect x="692" y="415" width="3" height="5" fill="#c0c0c0"/>
<rect x="696" y="414" width="3" height="6" fill="#c0c0c0"/>
<rect x="700" y="415" width="3" height="5" fill="#c0c0c0"/>
<rect x="704" y="414" width="3" height="6" fill="#c0c0c0"/>
<rect x="708" y="414" width="3" height="6" fill="#c0c0c0"/>
<rect x="712" y="412" width="3" height="8" fill="#c0c0c0"/>
<rect x="716" y="411" width="3" height="9" fill="#c0c0c0"/>
<rect x="720" y="409" width="3" height="11" fill="#c0c0c0"/>
<rect x="724" y="407" width="3" height="13" fill="#c0c0c0"/>
<rect x="728" y="404" width="3" height="16" fill="#c0c0c0"/>
<rect x="732" y="401" width="3" height="19" fill="#c0c0c0"/>
<rect x="736" y="401" width="3" height="19" fill="#c0c0c0"/>
<rect x="740" y="403" width="3" height="17" fill="#c0c0c0"/>
<rect x="744" y="403" width="3" height="17" fill="#c0c0c0"/>
<rect x="748" y="402" width="3" height="18" fill="#c0c0c0"/>
<rect x="752" y="403" width="3" height="17" fill="#c0c0c0"/>
<rect x="756" y="405" width="3" height="15" fill="#c0c0c0"/>
<rect x="760" y="409" width="3" height="11" fill="#c0c0c0"/>
<rect x="764" y="412" width="3" height="8" fill="#c0c0c0"/>
<rect x="768" y="412" width="3" height="8" fill="#c0c0c0"/>
<rect x="772" y="410" width="3" height="10" fill="#c0c0c0"/>
<rect x="776" y="407" width="3" height="13" fill="#c0c0c0"/>
<rect x="780" y="405" width="3" height="15" fill="#c0c0c0"/>
<rect x="784" y="404" width="3" height="16" fill="#c0c0c0"/>
<rect x="788" y="401" width="3" height="19" fill="#c0c0c0"/>
<rect x="792" y="398" width="3" height="22" fill="#c0c0c0"/>
<rect x="796" y="396" width="3" height="24" fill="#c0c0c0"/>
<rect x="800" y="394" width="3" height="26" fill="#c0c0c0"/>
<rect x="804" y="393" width="3" height="27" fill="#c0c0c0"/>
<rect x="808" y="393" width="3" height="27" fill="#c0c0c0"/>
<rect x="812" y="393" width="3" height="27" fill="#c0c0c0"/>
<rect x="816" y="393" width="3" height="27" fill="#c0c0c0"/>
<rect x="820" y="394" width="3" height="26" fill="#c0c0c0"/>
<rect x="824" y="395" width="3" height="25" fill="#c0c0c0"/>
<rect x="828" y="397" width="3" height="23" fill="#c0c0c0"/>
<rect x="832" y="396" width="3" height="24" fill="#c0c0c0"/>
<rect x="836" y="395" width="3" height="25" fill="#c0c0c0"/>
<rect x="840" y="397" width="3" height="23" fill="#c0c0c0"/>
<rect x="844" y="399" width="3" height="21" fill="#c0c0c0"/>
<rect x="848" y="402" width="3" height="18" fill="#c0c0c0"/>
<rect x="852" y="404" width="3" height="16" fill="#c0c0c0"/>
<rect x="856" y="408" width="3" height="12" fill="#c0c0c0"/>
<rect x="860" y="409" width="3" height="11" fill="#c0c0c0"/>
<rect x="864" y="410" width="3" height="10" fill="#c0c0c0"/>
<rect x="868" y="413" width="3" height="7" fill="#c0c0c0"/>
<rect x="872" y="415" width="3" height="5" fill="#c0c0c0"/>
<rect x="876" y="417" width="3" height="3" fill="#c0c0c0"/>
<rect x="880" y="420" width="3" height="1" fill="#c0c0c0"/>
<rect x="884" y="420" width="3" height="2" fill="#c0c0c0"/>
<rect x="888" y="420" width="3" height="1" fill="#c0c0c0"/>
<rect x="892" y="420" width="3" height="3" fill="#c0c0c0"/>
<rect x="896" y="420" width="3" height="8" fill="#c0c0c0"/>
<rect x="900" y="420" width="3" height="12" fill="#c0c0c0"/>
<rect x="904" y="420" width="3" height="17" fill="#c0c0c0"/>
<rect x="908" y="420" width="3" height="21" fill="#c0c0c0"/>
<rect x="912" y="420" width="3" height="25" fill="#c0c0c0"/>
<path d="M5 435h1v1h-1zM6 435h1v1h-1zM7 435h1v1h-1zM8 434h1v1h-1zM9 434h1v1h-1zM10 434h1v1h-1zM11 434h1v1h-1zM12 433h1v1h-1zM13 433h1v1h-1zM14 433h1v1h-1zM15 433h1v1h-1zM16 433h1v1h-1zM17 433h1v1h-1zM18 433h1v1h-1zM19 433h1v1h-1zM20 432h1v1h-1zM21 432h1v1h-1zM22 432h1v1h-1zM23 432h1v1h-1zM24 432h1v1h-1zM25 432h1v1h-1zM26 432h1v1h-1zM27 432h1v1h-1zM28 431h1v1h-1zM29 431h1v1h-1zM30 431h1v1h-1zM31 431h1v1h-1zM32 430h1v1h-1zM33 430h1v1h-1zM34 430h1v1h-1zM35 430h1v1h-1zM36 430h1v1h-1zM37 430h1v1h-1zM38 430h1v1h-1zM39 430h1v1h-1zM40 430h1v1h-1zM41 430h1v1h-1zM42 430h1v1h-1zM43 430h1v1h-1zM44 430h1v1h-1zM45 430h1v1h-1zM46 430h1v1h-1zM47 430h1v1h-1zM48 430h1v1h-1zM49 430h1v1h-1zM50 430h1v1h-1zM51 430h1v1h-1zM52 430h1v1h-1zM53 430h1v1h-1zM54 430h1v1h-1zM55 431h1v1h-1zM56 431h1v1h-1zM57 432h1v1h-1zM58 432h1v1h-1zM59 432h1v1h-1zM60 433h1v1h-1zM61 433h1v1h-1zM62 433h1v1h-1zM63 433h1v1h-1zM64 434h1v1h-1zM65 434h1v1h-1zM66 434h1v1h-1zM67 435h1v1h-1zM68 435h1v1h-1zM69 436h1v1h-1zM70 436h1v1h-1zM71 436h1v1h-1zM72 437h1v1h-1zM73 437h1v1h-1zM74 437h1v1h-1zM75 437h1v1h-1zM76 438h1v1h-1zM77 438h1v1h-1zM78 438h1v1h-1zM79 438h1v1h-1zM80 438h1v1h-1zM81 438h1v1h-1zM82 438h1v1h-1zM83 438h1v1h-1zM84 438h1v1h-1zM85 438h1v1h-1zM86 438h1v1h-1zM87 438h1v1h-1zM88 437h1v1h-1zM89 437h1v1h-1zM90 437h1v1h-1zM91 437h1v1h-1zM92 436h1v1h-1zM93 436h1v1h-1zM94 436h1v1h-1zM95 435h1v1h-1zM96 435h1v1h-1zM97 434h1v1h-1zM98 433h1v1h-1zM99 433h1v1h-1zM100 432h1v1h-1zM101 431h1v1h-1zM102 431h1v1h-1zM103 430h1v1h-1zM104 430h1v1h-1zM105 429h1v1h-1zM106 428h1v1h-1zM107 428h1v1h-1zM108 427h1v1h-1zM109 426h1v1h-1zM110 425h1v1h-1zM111 425h1v1h-1zM112 424h1v1h-1zM113 423h1v1h-1zM114 422h1v1h-1zM115 422h1v1h-1zM116 421h1v1h-1zM117 420h1v1h-1zM118 420h1v1h-1zM119 419h1v1h-1zM120 419h1v1h-1zM121 418h1v1h-1zM122 418h1v1h-1zM123 417h1v1h-1zM124 417h1v1h-1zM125 416h1v1h-1zM126 416h1v1h-1zM127 416h1v1h-1zM128 415h1v1h-1zM129 415h1v1h-1zM130 415h1v1h-1zM131 414h1v1h-1zM132 414h1v1h-1zM133 413h1v1h-1zM134 413h1v1h-1zM135 413h1v1h-1zM136 413h1v1h-1zM137 413h1v1h-1zM138 413h1v1h-1zM139 413h1v1h-1zM140 413h1v1h-1zM141 413h1v1h-1zM142 413h1v1h-1zM143 413h1v1h-1zM144 413h1v1h-1zM145 413h1v1h-1zM146 413h1v1h-1zM147 413h1v1h-1zM148 414h1v1h-1zM149 414h1v1h-1zM150 414h1v1h-1zM151 414h1v1h-1zM152 415h1v1h-1zM153 415h1v1h-1zM154 415h1v1h-1zM155 415h1v1h-1zM156 416h1v1h-1zM157 416h1v1h-1zM158 416h1v1h-1zM159 416h1v1h-1zM160 417h1v1h-1zM161 417h1v1h-1zM162 417h1v1h-1zM163 418h1v1h-1zM164 418h1v1h-1zM165 419h1v1h-1zM166 419h1v1h-1zM167 419h1v1h-1zM168 420h1v1h-1zM169 420h1v1h-1zM170 420h1v1h-1zM171 421h1v1h-1zM172 421h1v1h-1zM173 422h1v1h-1zM174 422h1v1h-1zM175 422h1v1h-1zM176 423h1v1h-1zM177 423h1v1h-1zM178 423h1v1h-1zM179 424h1v1h-1zM180 424h1v1h-1zM181 425h1v1h-1zM182 425h1v1h-1zM183 425h1v1h-1zM184 425h1v1h-1zM185 425h1v1h-1zM186 425h1v1h-1zM187 425h1v1h-1zM188 426h1v1h-1zM189 426h1v1h-1zM190 426h1v1h-1zM191 426h1v1h-1zM192 427h1v1h-1zM193 427h1v1h-1zM194 427h1v1h-1zM195 427h1v1h-1zM196 428h1v1h-1zM197 428h1v1h-1zM198 428h1v1h-1zM199 428h1v1h-1zM200 428h1v1h-1zM201 428h1v1h-1zM202 428h1v1h-1zM203 428h1v1h-1zM204 428h1v1h-1zM205 428h1v1h-1zM206 428h1v1h-1zM207 428h1v1h-1zM208 428h1v1h-1zM209 428h1v1h-1zM210 428h1v1h-1zM211 428h1v1h-1zM212 428h1v1h-1zM213 428h1v1h-1zM214 428h1v1h-1zM215 428h1v1h-1zM216 427h1v1h-1zM217 427h1v1h-1zM218 427h1v1h-1zM219 427h1v1h-1zM220 427h1v1h-1zM221 427h1v1h-1zM222 427h1v1h-1zM223 427h1v1h-1zM224 426h1v1h-1zM225 426h1v1h-1zM226 426h1v1h-1zM227 426h1v1h-1zM228 425h1v1h-1zM229 425h1v1h-1zM230 425h1v1h-1zM231 425h1v1h-1zM232 424h1v1h-1zM233 424h1v1h-1zM234 424h1v1h-1zM235 423h1v1h-1zM236 423h1v1h-1zM237 422h1v1h-1zM238 422h1v1h-1zM239 422h1v1h-1zM240 421h1v1h-1zM241 421h1v1h-1zM242 421h1v1h-1zM243 421h1v1h-1zM244 420h1v1h-1zM245 420h1v1h-1zM246 420h1v1h-1zM247 419h1v1h-1zM248 419h1v1h-1zM249 418h1v1h-1zM250 418h1v1h-1zM251 417h1v1h-1zM252 417h1v1h-1zM253 416h1v1h-1zM254 416h1v1h-1zM255 416h1v1h-1zM256 415h1v1h-1zM257 415h1v1h-1zM258 415h1v1h-1zM259 414h1v1h-1zM260 414h1v1h-1zM261 413h1v1h-1zM262 413h1v1h-1zM263 412h1v1h-1zM264 412h1v1h-1zM265 411h1v1h-1zM266 411h1v1h-1zM267 410h1v1h-1zM268 410h1v1h-1zM269 409h1v1h-1zM270 409h1v1h-1zM271 408h1v1h-1zM272 408h1v1h-1zM273 407h1v1h-1zM274 407h1v1h-1zM275 407h1v1h-1zM276 406h1v1h-1zM277 406h1v1h-1zM278 406h1v1h-1zM279 405h1v1h-1zM280 405h1v1h-1zM281 404h1v1h-1zM282 404h1v1h-1zM283 404h1v1h-1zM284 403h1v1h-1zM285 403h1v1h-1zM286 403h1v1h-1zM287 403h1v1h-1zM288 402h1v1h-1zM289 402h1v1h-1zM290 402h1v1h-1zM291 402h1v1h-1zM292 401h1v1h-1zM293 401h1v1h-1zM294 401h1v1h-1zM295 401h1v1h-1zM296 401h1v1h-1zM297 401h1v1h-1zM298 401h1v1h-1zM299 401h1v1h-1zM300 400h1v1h-1zM301 400h1v1h-1zM302 400h1v1h-1zM303 400h1v1h-1zM304 400h1v1h-1zM305 400h1v1h-1zM306 400h1v1h-1zM307 400h1v1h-1zM308 400h1v1h-1zM309 400h1v1h-1zM310 400h1v1h-1zM311 400h1v1h-1zM312 401h1v1h-1zM313 401h1v1h-1zM314 401h1v1h-1zM315 401h1v1h-1zM316 401h1v1h-1zM317 401h1v1h-1zM318 401h1v1h-1zM319 401h1v1h-1zM320 402h1v1h-1zM321 402h1v1h-1zM322 402h1v1h-1zM323 403h1v1h-1zM324 403h1v1h-1zM325 404h1v1h-1zM326 404h1v1h-1zM327 405h1v1h-1zM328 405h1v1h-1zM329 406h1v1h-1zM330 406h1v1h-1zM331 407h1v1h-1zM332 407h1v1h-1zM333 408h1v1h-1zM334 408h1v1h-1zM335 409h1v1h-1zM336 409h1v1h-1zM337 410h1v1h-1zM338 410h1v1h-1zM339 411h1v1h-1zM340 411h1v1h-1zM341 412h1v1h-1zM342 413h1v1h-1zM343 413h1v1h-1zM344 414h1v1h-1zM345 415h1v1h-1zM346 415h1v1h-1zM347 416h1v1h-1zM348 416h1v1h-1zM349 417h1v1h-1zM350 417h1v1h-1zM351 418h1v1h-1zM352 418h1v1h-1zM353 419h1v1h-1zM354 419h1v1h-1zM355 420h1v1h-1zM356 420h1v1h-1zM357 421h1v1h-1zM358 421h1v1h-1zM359 422h1v1h-1zM360 422h1v1h-1zM361 423h1v1h-1zM362 423h1v1h-1zM363 424h1v1h-1zM364 424h1v1h-1zM365 425h1v1h-1zM366 425h1v1h-1zM367 426h1v1h-1zM368 426h1v1h-1zM369 427h1v1h-1zM370 427h1v1h-1zM371 428h1v1h-1zM372 428h1v1h-1zM373 429h1v1h-1zM374 429h1v1h-1zM375 429h1v1h-1zM376 430h1v1h-1zM377 430h1v1h-1zM378 430h1v1h-1zM379 431h1v1h-1zM380 431h1v1h-1zM381 432h1v1h-1zM382 432h1v1h-1zM383 432h1v1h-1zM384 433h1v1h-1zM385 433h1v1h-1zM386 433h1v1h-1zM387 434h1v1h-1zM388 434h1v1h-1zM389 435h1v1h-1zM390 435h1v1h-1zM391 435h1v1h-1zM392 436h1v1h-1zM393 436h1v1h-1zM394 436h1v1h-1zM395 437h1v1h-1zM396 437h1v1h-1zM397 438h1v1h-1zM398 438h1v1h-1zM399 438h1v1h-1zM400 439h1v1h-1zM401 439h1v1h-1zM402 439h1v1h-1zM403 439h1v1h-1zM404 440h1v1h-1zM405 440h1v1h-1zM406 440h1v1h-1zM407 440h1v1h-1zM408 441h1v1h-1zM409 441h1v1h-1zM410 441h1v1h-1zM411 441h1v1h-1zM412 442h1v1h-1zM413 442h1v1h-1zM414 442h1v1h-1zM415 443h1v1h-1zM416 443h1v1h-1zM417 444h1v1h-1zM418 444h1v1h-1zM419 444h1v1h-1zM420 445h1v1h-1zM421 445h1v1h-1zM422 445h1v1h-1zM423 445h1v1h-1zM424 446h1v1h-1zM425 446h1v1h-1zM426 446h1v1h-1zM427 446h1v1h-1zM428 447h1v1h-1zM429 447h1v1h-1zM430 447h1v1h-1zM431 447h1v1h-1zM432 447h1v1h-1zM433 447h1v1h-1zM434 447h1v1h-1zM435 447h1v1h-1zM436 447h1v1h-1zM437 447h1v1h-1zM438 447h1v1h-1zM439 447h1v1h-1zM440 446h1v1h-1zM441 446h1v1h-1zM442 446h1v1h-1zM443 446h1v1h-1zM444 445h1v1h-1zM445 445h1v1h-1zM446 445h1v1h-1zM447 445h1v1h-1zM448 444h1v1h-1zM449 444h1v1h-1zM450 444h1v1h-1zM451 443h1v1h-1zM452 443h1v1h-1zM453 442h1v1h-1zM454 442h1v1h-1zM455 441h1v1h-1zM456 441h1v1h-1zM457 440h1v1h-1zM458 440h1v1h-1zM459 439h1v1h-1zM460 439h1v1h-1zM461 438h1v1h-1zM462 438h1v1h-1zM463 437h1v1h-1zM464 437h1v1h-1zM465 436h1v1h-1zM466 436h1v1h-1zM467 435h1v1h-1zM468 435h1v1h-1zM469 434h1v1h-1zM470 434h1v1h-1zM471 434h1v1h-1zM472 433h1v1h-1zM473 433h1v1h-1zM474 433h1v1h-1zM475 433h1v1h-1zM476 432h1v1h-1zM477 432h1v1h-1zM478 432h1v1h-1zM479 432h1v1h-1zM480 431h1v1h-1zM481 431h1v1h-1zM482 431h1v1h-1zM483 430h1v1h-1zM484 430h1v1h-1zM485 429h1v1h-1zM486 429h1v1h-1zM487 429h1v1h-1zM488 428h1v1h-1zM489 428h1v1h-1zM490 428h1v1h-1zM491 427h1v1h-1zM492 427h1v1h-1zM493 426h1v1h-1zM494 426h1v1h-1zM495 426h1v1h-1zM496 425h1v1h-1zM497 425h1v1h-1zM498 425h1v1h-1zM499 424h1v1h-1zM500 424h1v1h-1zM501 423h1v1h-1zM502 423h1v1h-1zM503 422h1v1h-1zM504 422h1v1h-1zM505 421h1v1h-1zM506 421h1v1h-1zM507 421h1v1h-1zM508 420h1v1h-1zM509 420h1v1h-1zM510 420h1v1h-1zM511 419h1v1h-1zM512 419h1v1h-1zM513 418h1v1h-1zM514 418h1v1h-1zM515 417h1v1h-1zM516 417h1v1h-1zM517 416h1v1h-1zM518 416h1v1h-1zM519 416h1v1h-1zM520 415h1v1h-1zM521 415h1v1h-1zM522 415h1v1h-1zM523 415h1v1h-1zM524 414h1v1h-1zM525 414h1v1h-1zM526 414h1v1h-1zM527 414h1v1h-1zM528 414h1v1h-1zM529 414h1v1h-1zM530 414h1v1h-1zM531 414h1v1h-1zM532 413h1v1h-1zM533 413h1v1h-1zM534 413h1v1h-1zM535 413h1v1h-1zM536 414h1v1h-1zM537 414h1v1h-1zM538 414h1v1h-1zM539 414h1v1h-1zM540 414h1v1h-1zM541 414h1v1h-1zM542 414h1v1h-1zM543 414h1v1h-1zM544 415h1v1h-1zM545 415h1v1h-1zM546 415h1v1h-1zM547 415h1v1h-1zM548 415h1v1h-1zM549 415h1v1h-1zM550 415h1v1h-1zM551 415h1v1h-1zM552 416h1v1h-1zM553 416h1v1h-1zM554 416h1v1h-1zM555 416h1v1h-1zM556 416h1v1h-1zM557 416h1v1h-1zM558 416h1v1h-1zM559 416h1v1h-1zM560 416h1v1h-1zM561 416h1v1h-1zM562 416h1v1h-1zM563 416h1v1h-1zM564 417h1v1h-1zM565 417h1v1h-1zM566 417h1v1h-1zM567 417h1v1h-1zM568 417h1v1h-1zM569 417h1v1h-1zM570 417h1v1h-1zM571 417h1v1h-1zM572 417h1v1h-1zM573 417h1v1h-1zM574 417h1v1h-1zM575 417h1v1h-1zM576 417h1v1h-1zM577 417h1v1h-1zM578 417h1v1h-1zM579 417h1v1h-1zM580 417h1v1h-1zM581 417h1v1h-1zM582 417h1v1h-1zM583 417h1v1h-1zM584 417h1v1h-1zM585 417h1v1h-1zM586 417h1v1h-1zM587 417h1v1h-1zM588 417h1v1h-1zM589 417h1v1h-1zM590 417h1v1h-1zM591 417h1v1h-1zM592 418h1v1h-1zM593 418h1v1h-1zM594 418h1v1h-1zM595 418h1v1h-1zM596 419h1v1h-1zM597 419h1v1h-1zM598 419h1v1h-1zM599 419h1v1h-1zM600 420h1v1h-1zM601 420h1v1h-1zM602 420h1v1h-1zM603 420h1v1h-1zM604 421h1v1h-1zM605 421h1v1h-1zM606 421h1v1h-1zM607 421h1v1h-1zM608 422h1v1h-1zM609 422h1v1h-1zM610 422h1v1h-1zM611 423h1v1h-1zM612 423h1v1h-1zM613 424h1v1h-1zM614 424h1v1h-1zM615 425h1v1h-1zM616 425h1v1h-1zM617 426h1v1h-1zM618 426h1v1h-1zM619 427h1v1h-1zM620 427h1v1h-1zM621 428h1v1h-1zM622 428h1v1h-1zM623 428h1v1h-1zM624 429h1v1h-1zM625 429h1v1h-1zM626 429h1v1h-1zM627 429h1v1h-1zM628 430h1v1h-1zM629 430h1v1h-1zM630 430h1v1h-1zM631 430h1v1h-1zM632 431h1v1h-1zM633 431h1v1h-1zM634 431h1v1h-1zM635 431h1v1h-1zM636 432h1v1h-1zM637 432h1v1h-1zM638 432h1v1h-1zM639 432h1v1h-1zM640 432h1v1h-1zM641 432h1v1h-1zM642 432h1v1h-1zM643 432h1v1h-1zM644 432h1v1h-1zM645 432h1v1h-1zM646 432h1v1h-1zM647 431h1v1h-1zM648 431h1v1h-1zM649 430h1v1h-1zM650 430h1v1h-1zM651 430h1v1h-1zM652 429h1v1h-1zM653 429h1v1h-1zM654 429h1v1h-1zM655 429h1v1h-1zM656 428h1v1h-1zM657 428h1v1h-1zM658 428h1v1h-1zM659 428h1v1h-1zM660 427h1v1h-1zM661 427h1v1h-1zM662 427h1v1h-1zM663 427h1v1h-1zM664 426h1v1h-1zM665 426h1v1h-1zM666 426h1v1h-1zM667 426h1v1h-1zM668 425h1v1h-1zM669 425h1v1h-1zM670 425h1v1h-1zM671 425h1v1h-1zM672 424h1v1h-1zM673 424h1v1h-1zM674 424h1v1h-1zM675 423h1v1h-1zM676 423h1v1h-1zM677 422h1v1h-1zM678 422h1v1h-1zM679 422h1v1h-1zM680 421h1v1h-1zM681 421h1v1h-1zM682 421h1v1h-1zM683 421h1v1h-1zM684 420h1v1h-1zM685 420h1v1h-1zM686 420h1v1h-1zM687 420h1v1h-1zM688 420h1v1h-1zM689 420h1v1h-1zM690 420h1v1h-1zM691 420h1v1h-1zM692 419h1v1h-1zM693 419h1v1h-1zM694 419h1v1h-1zM695 419h1v1h-1zM696 418h1v1h-1zM697 418h1v1h-1zM698 418h1v1h-1zM699 418h1v1h-1zM700 417h1v1h-1zM701 417h1v1h-1zM702 417h1v1h-1zM703 417h1v1h-1zM704 416h1v1h-1zM705 416h1v1h-1zM706 416h1v1h-1zM707 416h1v1h-1zM708 415h1v1h-1zM709 415h1v1h-1zM710 415h1v1h-1zM711 415h1v1h-1zM712 415h1v1h-1zM713 415h1v1h-1zM714 415h1v1h-1zM715 415h1v1h-1zM716 414h1v1h-1zM717 414h1v1h-1zM718 414h1v1h-1zM719 414h1v1h-1zM720 413h1v1h-1zM721 413h1v1h-1zM722 413h1v1h-1zM723 413h1v1h-1zM724 412h1v1h-1zM725 412h1v1h-1zM726 412h1v1h-1zM727 411h1v1h-1zM728 411h1v1h-1zM729 410h1v1h-1zM730 410h1v1h-1zM731 410h1v1h-1zM732 409h1v1h-1zM733 409h1v1h-1zM734 409h1v1h-1zM735 408h1v1h-1zM736 408h1v1h-1zM737 407h1v1h-1zM738 407h1v1h-1zM739 407h1v1h-1zM740 406h1v1h-1zM741 406h1v1h-1zM742 406h1v1h-1zM743 406h1v1h-1zM744 405h1v1h-1zM745 405h1v1h-1zM746 405h1v1h-1zM747 405h1v1h-1zM748 404h1v1h-1zM749 404h1v1h-1zM750 404h1v1h-1zM751 404h1v1h-1zM752 403h1v1h-1zM753 403h1v1h-1zM754 403h1v1h-1zM755 403h1v1h-1zM756 403h1v1h-1zM757 403h1v1h-1zM758 403h1v1h-1zM759 403h1v1h-1zM760 403h1v1h-1zM761 403h1v1h-1zM762 403h1v1h-1zM763 403h1v1h-1zM764 404h1v1h-1zM765 404h1v1h-1zM766 404h1v1h-1zM767 404h1v1h-1zM768 405h1v1h-1zM769 405h1v1h-1zM770 405h1v1h-1zM771 405h1v1h-1zM772 406h1v1h-1zM773 406h1v1h-1zM774 406h1v1h-1zM775 406h1v1h-1zM776 406h1v1h-1zM777 406h1v1h-1zM778 406h1v1h-1zM779 406h1v1h-1zM780 407h1v1h-1zM781 407h1v1h-1zM782 407h1v1h-1zM783 407h1v1h-1zM784 407h1v1h-1zM785 407h1v1h-1zM786 407h1v1h-1zM787 407h1v1h-1zM788 407h1v1h-1zM789 407h1v1h-1zM790 407h1v1h-1zM791 407h1v1h-1zM792 406h1v1h-1zM793 406h1v1h-1zM794 406h1v1h-1zM795 406h1v1h-1zM796 405h1v1h-1zM797 405h1v1h-1zM798 405h1v1h-1zM799 404h1v1h-1zM800 404h1v1h-1zM801 403h1v1h-1zM802 402h1v1h-1zM803 402h1v1h-1zM804 401h1v1h-1zM805 400h1v1h-1zM806 400h1v1h-1zM807 400h1v1h-1zM808 399h1v1h-1zM809 399h1v1h-1zM810 399h1v1h-1zM811 398h1v1h-1zM812 398h1v1h-1zM813 397h1v1h-1zM814 397h1v1h-1zM815 397h1v1h-1zM816 396h1v1h-1zM817 396h1v1h-1zM818 396h1v1h-1zM819 396h1v1h-1zM820 395h1v1h-1zM821 395h1v1h-1zM822 395h1v1h-1zM823 395h1v1h-1zM824 394h1v1h-1zM825 394h1v1h-1zM826 394h1v1h-1zM827 394h1v1h-1zM828 394h1v1h-1zM829 394h1v1h-1zM830 394h1v1h-1zM831 394h1v1h-1zM832 394h1v1h-1zM833 394h1v1h-1zM834 394h1v1h-1zM835 394h1v1h-1zM836 394h1v1h-1zM837 394h1v1h-1zM838 394h1v1h-1zM839 394h1v1h-1zM840 394h1v1h-1zM841 394h1v1h-1zM842 394h1v1h-1zM843 394h1v1h-1zM844 395h1v1h-1zM845 395h1v1h-1zM846 395h1v1h-1zM847 395h1v1h-1zM848 396h1v1h-1zM849 396h1v1h-1zM850 396h1v1h-1zM851 396h1v1h-1zM852 397h1v1h-1zM853 397h1v1h-1zM854 397h1v1h-1zM855 398h1v1h-1zM856 398h1v1h-1zM857 399h1v1h-1zM858 399h1v1h-1zM859 399h1v1h-1zM860 400h1v1h-1zM861 400h1v1h-1zM862 400h1v1h-1zM863 401h1v1h-1zM864 401h1v1h-1zM865 402h1v1h-1zM866 402h1v1h-1zM867 403h1v1h-1zM868 403h1v1h-1zM869 404h1v1h-1zM870 404h1v1h-1zM871 405h1v1h-1zM872 405h1v1h-1zM873 406h1v1h-1zM874 406h1v1h-1zM875 407h1v1h-1zM876 407h1v1h-1zM877 408h1v1h-1zM878 408h1v1h-1zM879 409h1v1h-1zM880 409h1v1h-1zM881 410h1v1h-1zM882 411h1v1h-1zM883 411h1v1h-1zM884 412h1v1h-1zM885 413h1v1h-1zM886 413h1v1h-1zM887 413h1v1h-1zM888 414h1v1h-1zM889 414h1v1h-1zM890 414h1v1h-1zM891 415h1v1h-1zM892 415h1v1h-1zM893 416h1v1h-1zM894 416h1v1h-1zM895 417h1v1h-1zM896 417h1v1h-1zM897 418h1v1h-1zM898 418h1v1h-1zM899 419h1v1h-1zM900 419h1v1h-1zM901 420h1v1h-1zM902 421h1v1h-1zM903 421h1v1h-1zM904 422h1v1h-1zM905 423h1v1h-1zM906 423h1v1h-1zM907 424h1v1h-1zM908 424h1v1h-1zM909 425h1v1h-1zM910 426h1v1h-1zM911 426h1v1h-1zM912 427h1v1h-1zM913 428h1v1h-1z" fill="#ff0000"/>
<line x1="5" y1="479.5" x2="1151" y2="479.5" stroke="#c0c0c0" stroke-width="1" stroke-dasharray="3,3"/>
<line x1="5" y1="505.5" x2="1151" y2="505.5" stroke="#c0c0c0" stroke-width="1" stroke-dasharray="3,3"/>
<path d="M5 493h1v1h-1zM6 494h1v1h-1zM7 495h1v2h-1zM8 497h1v1h-1zM9 498h1v1h-1zM10 498h1v1h-1zM11 498h1v1h-1zM12 499h1v1h-1zM13 499h1v1h-1zM14 499h1v1h-1zM15 499h1v1h-1zM16 500h1v1h-1zM17 500h1v1h-1zM18 500h1v1h-1zM19 499h1v1h-1zM20 499h1v1h-1zM21 498h1v1h-1zM22 497h1v1h-1zM23 497h1v1h-1zM24 496h1v1h-1zM25 495h1v1h-1zM26 495h1v1h-1zM27 496h1v1h-1zM28 496h1v1h-1zM29 497h1v1h-1zM30 496h1v1h-1zM31 496h1v1h-1zM32 495h1v1h-1zM33 494h1v1h-1zM34 494h1v1h-1zM35 494h1v1h-1zM36 494h1v1h-1zM37 494h1v1h-1zM38 495h1v1h-1zM39 495h1v1h-1zM40 496h1v1h-1zM41 497h1v1h-1zM42 498h1v2h-1zM43 500h1v1h-1zM44 501h1v2h-1zM45 503h1v1h-1zM46 503h1v1h-1zM47 503h1v1h-1zM48 504h1v1h-1zM49 504h1v1h-1zM50 505h1v1h-1zM51 506h1v1h-1zM52 507h1v1h-1zM53 508h1v1h-1zM54 508h1v1h-1zM55 508h1v1h-1zM56 509h1v1h-1zM57 509h1v1h-1zM58 509h1v1h-1zM59 509h1v1h-1zM60 508h1v1h-1zM61 507h1v2h-1zM62 505h1v2h-1zM63 503h1v2h-1zM64 501h1v2h-1zM65 500h1v1h-1zM66 499h1v1h-1zM67 499h1v1h-1zM68 498h1v1h-1zM69 497h1v1h-1zM70 496h1v1h-1zM71 496h1v1h-1zM72 495h1v1h-1zM73 494h1v1h-1zM74 495h1v1h-1zM75 495h1v1h-1zM76 496h1v1h-1zM77 497h1v1h-1zM78 495h1v2h-1zM79 494h1v1h-1zM80 492h1v2h-1zM81 491h1v1h-1zM82 491h1v1h-1zM83 491h1v1h-1zM84 491h1v1h-1zM85 491h1v1h-1zM86 491h1v1h-1zM87 492h1v1h-1zM88 492h1v1h-1zM89 493h1v1h-1zM90 493h1v1h-1zM91 492h1v1h-1zM92 492h1v1h-1zM93 491h1v1h-1zM94 490h1v1h-1zM95 489h1v1h-1zM96 488h1v1h-1zM97 487h1v1h-1zM98 487h1v1h-1zM99 486h1v1h-1zM100 486h1v1h-1zM101 485h1v1h-1zM102 484h1v1h-1zM103 484h1v1h-1zM104 483h1v1h-1zM105 482h1v1h-1zM106 482h1v1h-1zM107 482h1v1h-1zM108 483h1v1h-1zM109 483h1v1h-1zM110 483h1v1h-1zM111 483h1v1h-1zM112 484h1v1h-1zM113 484h1v1h-1zM114 485h1v1h-1zM115 486h1v1h-1zM116 487h1v1h-1zM117 488h1v1h-1zM118 489h1v1h-1zM119 489h1v1h-1zM120 490h1v1h-1zM121 491h1v1h-1zM122 491h1v1h-1zM123 491h1v1h-1zM124 490h1v1h-1zM125 490h1v1h-1zM126 490h1v1h-1zM127 490h1v1h-1zM128 490h1v1h-1zM129 490h1v1h-1zM130 490h1v1h-1zM131 490h1v1h-1zM132 490h1v1h-1zM133 490h1v1h-1zM134 490h1v1h-1zM135 490h1v1h-1zM136 490h1v1h-1zM137 490h1v1h-1zM138 491h1v1h-1zM139 492h1v2h-1zM140 494h1v1h-1zM141 495h1v1h-1zM142 494h1v1h-1zM143 494h1v1h-1zM144 493h1v1h-1zM145 492h1v1h-1zM146 493h1v1h-1zM147 494h1v1h-1zM148 495h1v1h-1zM149 496h1v1h-1zM150 496h1v1h-1zM151 497h1v1h-1zM152 497h1v1h-1zM153 498h1v1h-1zM154 498h1v1h-1zM155 498h1v1h-1zM156 499h1v1h-1zM157 499h1v1h-1zM158 499h1v1h-1zM159 499h1v1h-1zM160 499h1v1h-1zM161 499h1v1h-1zM162 499h1v1h-1zM163 500h1v1h-1zM164 500h1v1h-1zM165 501h1v1h-1zM166 501h1v1h-1zM167 501h1v1h-1zM168 501h1v1h-1zM169 501h1v1h-1zM170 499h1v2h-1zM171 497h1v2h-1zM172 495h1v2h-1zM173 494h1v1h-1zM174 495h1v1h-1zM175 495h1v1h-1zM176 496h1v1h-1zM177 497h1v1h-1zM178 497h1v1h-1zM179 497h1v1h-1zM180 496h1v1h-1zM181 496h1v1h-1zM182 496h1v1h-1zM183 495h1v1h-1zM184 495h1v1h-1zM185 494h1v1h-1zM186 495h1v1h-1zM187 495h1v1h-1zM188 496h1v1h-1zM189 497h1v1h-1zM190 498h1v1h-1zM191 499h1v2h-1zM192 501h1v1h-1zM193 502h1v1h-1zM194 501h1v1h-1zM195 499h1v2h-1zM196 498h1v1h-1zM197 497h1v1h-1zM198 496h1v1h-1zM199 495h1v1h-1zM200 494h1v1h-1zM201 493h1v1h-1zM202 493h1v1h-1zM203 493h1v1h-1zM204 493h1v1h-1zM205 493h1v1h-1zM206 493h1v1h-1zM207 493h1v1h-1zM208 492h1v1h-1zM209 492h1v1h-1zM210 492h1v1h-1zM211 492h1v1h-1zM212 492h1v1h-1zM213 492h1v1h-1zM214 492h1v1h-1zM215 492h1v1h-1zM216 492h1v1h-1zM217 492h1v1h-1zM218 491h1v1h-1zM219 491h1v1h-1zM220 490h1v1h-1zM221 489h1v1h-1zM222 489h1v1h-1zM223 489h1v1h-1zM224 489h1v1h-1zM225 489h1v1h-1zM226 489h1v1h-1zM227 490h1v1h-1zM228 490h1v1h-1zM229 491h1v1h-1zM230 490h1v1h-1zM231 489h1v1h-1zM232 488h1v1h-1zM233 487h1v1h-1zM234 487h1v1h-1zM235 487h1v1h-1zM236 488h1v1h-1zM237 488h1v1h-1zM238 487h1v1h-1zM239 486h1v1h-1zM240 485h1v1h-1zM241 484h1v1h-1zM242 484h1v1h-1zM243 483h1v1h-1zM244 483h1v1h-1zM245 482h1v1h-1zM246 482h1v1h-1zM247 482h1v1h-1zM248 482h1v1h-1zM249 482h1v1h-1zM250 482h1v1h-1zM251 482h1v1h-1zM252 481h1v1h-1zM253 481h1v1h-1zM254 481h1v1h-1zM255 482h1v1h-1zM256 482h1v1h-1zM257 483h1v1h-1zM258 482h1v1h-1zM259 481h1v1h-1zM260 480h1v1h-1zM261 479h1v1h-1zM262 479h1v1h-1zM263 478h1v1h-1zM264 478h1v1h-1zM265 477h1v1h-1zM266 478h1v2h-1zM267 480h1v1h-1zM268 481h1v2h-1zM269 483h1v1h-1zM270 483h1v1h-1zM271 483h1v1h-1zM272 483h1v1h-1zM273 483h1v1h-1zM274 483h1v1h-1zM275 483h1v1h-1zM276 483h1v1h-1zM277 483h1v1h-1zM278 483h1v1h-1zM279 482h1v1h-1zM280 482h1v1h-1zM281 481h1v1h-1zM282 481h1v1h-1zM283 481h1v1h-1zM284 480h1v1h-1zM285 480h1v1h-1zM286 480h1v1h-1zM287 480h1v1h-1zM288 481h1v1h-1zM289 481h1v1h-1zM290 481h1v1h-1zM291 480h1v1h-1zM292 480h1v1h-1zM293 479h1v1h-1zM294 479h1v1h-1zM295 479h1v1h-1zM296 480h1v1h-1zM297 480h1v1h-1zM298 480h1v1h-1zM299 480h1v1h-1zM300 481h1v1h-1zM301 481h1v1h-1zM302 481h1v1h-1zM303 481h1v1h-1zM304 481h1v1h-1zM305 481h1v2h-1zM306 483h1v3h-1zM307 486h1v2h-1zM308 488h1v3h-1zM309 491h1v2h-1zM310 491h1v1h-1zM311 491h1v1h-1zM312 490h1v1h-1zM313 489h1v1h-1zM314 490h1v1h-1zM315 491h1v2h-1zM316 493h1v1h-1zM317 494h1v1h-1zM318 494h1v1h-1zM319 494h1v1h-1zM320 495h1v1h-1zM321 495h1v1h-1zM322 495h1v1h-1zM323 495h1v1h-1zM324 495h1v1h-1zM325 495h1v1h-1zM326 495h1v1h-1zM327 494h1v1h-1zM328 494h1v1h-1zM329 493h1v1h-1zM330 494h1v1h-1zM331 494h1v1h-1zM332 495h1v1h-1zM333 496h1v1h-1zM334 497h1v1h-1zM335 498h1v1h-1zM336 499h1v1h-1zM337 500h1v1h-1zM338 501h1v1h-1zM339 501h1v1h-1zM340 502h1v1h-1zM341 503h1v1h-1zM342 502h1v1h-1zM343 500h1v2h-1zM344 499h1v1h-1zM345 498h1v1h-1zM346 498h1v1h-1zM347 498h1v1h-1zM348 498h1v1h-1zM349 498h1v1h-1zM350 498h1v1h-1zM351 498h1v1h-1zM352 497h1v1h-1zM353 497h1v1h-1zM354 498h1v1h-1zM355 498h1v1h-1zM356 499h1v1h-1zM357 500h1v1h-1zM358 500h1v1h-1zM359 501h1v1h-1zM360 501h1v1h-1zM361 502h1v1h-1zM362 502h1v1h-1zM363 502h1v1h-1zM364 501h1v1h-1zM365 501h1v1h-1zM366 502h1v1h-1zM367 502h1v1h-1zM368 503h1v1h-1zM369 504h1v1h-1zM370 504h1v1h-1zM371 504h1v1h-1zM372 504h1v1h-1zM373 504h1v1h-1zM374 504h1v1h-1zM375 504h1v1h-1zM376 504h1v1h-1zM377 504h1v1h-1zM378 504h1v1h-1zM379 504h1v1h-1zM380 505h1v1h-1zM381 505h1v1h-1zM382 505h1v1h-1zM383 505h1v1h-1zM384 506h1v1h-1zM385 506h1v1h-1zM386 506h1v1h-1zM387 506h1v1h-1zM388 507h1v1h-1zM389 507h1v1h-1zM390 508h1v1h-1zM391 508h1v1h-1zM392 509h1v1h-1zM393 510h1v1h-1zM394 509h1v1h-1zM395 508h1v1h-1zM396 507h1v1h-1zM397 506h1v1h-1zM398 506h1v1h-1zM399 506h1v1h-1zM400 506h1v1h-1zM401 506h1v1h-1zM402 506h1v1h-1zM403 506h1v1h-1zM404 507h1v1h-1zM405 507h1v1h-1zM406 507h1v1h-1zM407 507h1v1h-1zM408 508h1v1h-1zM409 508h1v1h-1zM410 508h1v1h-1zM411 508h1v1h-1zM412 509h1v1h-1zM413 509h1v1h-1zM414 510h1v1h-1zM415 511h1v1h-1zM416 512h1v1h-1zM417 513h1v1h-1zM418 512h1v1h-1zM419 512h1v1h-1zM420 511h1v1h-1zM421 510h1v1h-1zM422 509h1v1h-1zM423 508h1v1h-1zM424 507h1v1h-1zM425 505h1v2h-1zM426 503h1v2h-1zM427 501h1v2h-1zM428 499h1v2h-1zM429 498h1v1h-1zM430 497h1v1h-1zM431 496h1v1h-1zM432 495h1v1h-1zM433 494h1v1h-1zM434 494h1v1h-1zM435 494h1v1h-1zM436 495h1v1h-1zM437 495h1v1h-1zM438 495h1v1h-1zM439 495h1v1h-1zM440 494h1v1h-1zM441 494h1v1h-1zM442 494h1v1h-1zM443 494h1v1h-1zM444 494h1v1h-1zM445 494h1v1h-1zM446 494h1v1h-1zM447 495h1v1h-1zM448 495h1v1h-1zM449 496h1v1h-1zM450 496h1v1h-1zM451 497h1v1h-1zM452 497h1v1h-1zM453 498h1v1h-1zM454 497h1v1h-1zM455 495h1v2h-1zM456 494h1v1h-1zM457 493h1v1h-1zM458 493h1v1h-1zM459 493h1v1h-1zM460 492h1v1h-1zM461 492h1v1h-1zM462 493h1v1h-1zM463 493h1v1h-1zM464 494h1v1h-1zM465 495h1v1h-1zM466 495h1v1h-1zM467 495h1v1h-1zM468 496h1v1h-1zM469 496h1v1h-1zM470 496h1v1h-1zM471 496h1v1h-1zM472 497h1v1h-1zM473 497h1v1h-1zM474 496h1v1h-1zM475 495h1v1h-1zM476 494h1v1h-1zM477 493h1v1h-1zM478 492h1v1h-1zM479 490h1v2h-1zM480 489h1v1h-1zM481 488h1v1h-1zM482 488h1v1h-1zM483 488h1v1h-1zM484 487h1v1h-1zM485 487h1v1h-1zM486 487h1v1h-1zM487 487h1v1h-1zM488 487h1v1h-1zM489 487h1v1h-1zM490 487h1v1h-1zM491 487h1v1h-1zM492 487h1v1h-1zM493 487h1v1h-1zM494 487h1v1h-1zM495 487h1v1h-1zM496 487h1v1h-1zM497 487h1v1h-1zM498 487h1v1h-1zM499 487h1v1h-1zM500 487h1v1h-1zM501 487h1v1h-1zM502 487h1v1h-1zM503 486h1v1h-1zM504 486h1v1h-1zM505 485h1v1h-1zM506 485h1v1h-1zM507 485h1v1h-1zM508 486h1v1h-1zM509 486h1v1h-1zM510 486h1v1h-1zM511 485h1v1h-1zM512 485h1v1h-1zM513 484h1v1h-1zM514 484h1v1h-1zM515 484h1v1h-1zM516 485h1v1h-1zM517 485h1v2h-1zM518 487h1v2h-1zM519 489h1v2h-1zM520 491h1v2h-1zM521 493h1v1h-1zM522 492h1v1h-1zM523 491h1v1h-1zM524 490h1v1h-1zM525 489h1v1h-1zM526 489h1v1h-1zM527 490h1v1h-1zM528 490h1v1h-1zM529 491h1v1h-1zM530 492h1v1h-1zM531 493h1v2h-1zM532 495h1v1h-1zM533 496h1v1h-1zM534 496h1v1h-1zM535 495h1v1h-1zM536 495h1v1h-1zM537 494h1v1h-1zM538 494h1v1h-1zM539 494h1v1h-1zM540 494h1v1h-1zM541 494h1v1h-1zM542 494h1v1h-1zM543 494h1v1h-1zM544 494h1v1h-1zM545 494h1v1h-1zM546 493h1v1h-1zM547 493h1v1h-1zM548 492h1v1h-1zM549 491h1v1h-1zM550 489h1v2h-1zM551 488h1v1h-1zM552 486h1v2h-1zM553 485h1v1h-1zM554 485h1v1h-1zM555 485h1v1h-1zM556 485h1v1h-1zM557 485h1v1h-1zM558 486h1v2h-1zM559 488h1v2h-1zM560 490h1v2h-1zM561 492h1v1h-1zM562 492h1v1h-1zM563 492h1v1h-1zM564 492h1v1h-1zM565 492h1v1h-1zM566 492h1v1h-1zM567 492h1v1h-1zM568 492h1v1h-1zM569 492h1v1h-1zM570 492h1v1h-1zM571 493h1v1h-1zM572 493h1v1h-1zM573 494h1v1h-1zM574 494h1v1h-1zM575 493h1v1h-1zM576 493h1v1h-1zM577 492h1v1h-1zM578 492h1v1h-1zM579 492h1v1h-1zM580 492h1v1h-1zM581 492h1v1h-1zM582 493h1v1h-1zM583 493h1v1h-1zM584 494h1v1h-1zM585 495h1v1h-1zM586 495h1v1h-1zM587 495h1v1h-1zM588 494h1v1h-1zM589 494h1v1h-1zM590 495h1v1h-1zM591 495h1v1h-1zM592 496h1v1h-1zM593 497h1v1h-1zM594 497h1v1h-1zM595 497h1v1h-1zM596 496h1v1h-1zM597 496h1v1h-1zM598 497h1v1h-1zM599 498h1v1h-1zM600 499h1v1h-1zM601 500h1v1h-1zM602 501h1v1h-1zM603 502h1v2h-1zM604 504h1v1h-1zM605 505h1v1h-1zM606 505h1v1h-1zM607 506h1v1h-1zM608 506h1v1h-1zM609 507h1v1h-1zM610 507h1v1h-1zM611 507h1v1h-1zM612 506h1v1h-1zM613 505h1v2h-1zM614 503h1v2h-1zM615 501h1v2h-1zM616 499h1v2h-1zM617 498h1v1h-1zM618 497h1v1h-1zM619 495h1v2h-1zM620 494h1v1h-1zM621 493h1v1h-1zM622 493h1v1h-1zM623 493h1v1h-1zM624 494h1v1h-1zM625 494h1v1h-1zM626 494h1v1h-1zM627 493h1v1h-1zM628 493h1v1h-1zM629 492h1v1h-1zM630 493h1v1h-1zM631 494h1v2h-1zM632 496h1v1h-1zM633 497h1v1h-1zM634 497h1v1h-1zM635 497h1v1h-1zM636 496h1v1h-1zM637 496h1v1h-1zM638 495h1v1h-1zM639 495h1v1h-1zM640 494h1v1h-1zM641 493h1v1h-1zM642 493h1v1h-1zM643 492h1v1h-1zM644 492h1v1h-1zM645 491h1v1h-1zM646 491h1v1h-1zM647 490h1v1h-1zM648 490h1v1h-1zM649 489h1v1h-1zM650 489h1v1h-1zM651 489h1v1h-1zM652 490h1v1h-1zM653 490h1v1h-1zM654 491h1v1h-1zM655 491h1v1h-1zM656 492h1v1h-1zM657 493h1v1h-1zM658 493h1v1h-1zM659 492h1v1h-1zM660 492h1v1h-1zM661 491h1v1h-1zM662 491h1v1h-1zM663 492h1v1h-1zM664 492h1v1h-1zM665 493h1v1h-1zM666 493h1v1h-1zM667 492h1v1h-1zM668 492h1v1h-1zM669 491h1v1h-1zM670 490h1v1h-1zM671 490h1v1h-1zM672 489h1v1h-1zM673 488h1v1h-1zM674 488h1v1h-1zM675 488h1v1h-1zM676 488h1v1h-1zM677 488h1v1h-1zM678 488h1v1h-1zM679 488h1v1h-1zM680 489h1v1h-1zM681 489h1v1h-1zM682 489h1v1h-1zM683 489h1v1h-1zM684 490h1v1h-1zM685 490h1v1h-1zM686 490h1v1h-1zM687 490h1v1h-1zM688 489h1v1h-1zM689 489h1v1h-1zM690 488h1v1h-1zM691 487h1v1h-1zM692 486h1v1h-1zM693 485h1v1h-1zM694 485h1v1h-1zM695 485h1v1h-1zM696 485h1v1h-1zM697 485h1v1h-1zM698 486h1v2h-1zM699 488h1v2h-1zM700 490h1v2h-1zM701 492h1v1h-1zM702 491h1v1h-1zM703 489h1v2h-1zM704 488h1v1h-1zM705 487h1v1h-1zM706 488h1v1h-1zM707 489h1v1h-1zM708 490h1v1h-1zM709 491h1v1h-1zM710 490h1v1h-1zM711 488h1v2h-1zM712 487h1v1h-1zM713 486h1v1h-1zM714 486h1v1h-1zM715 486h1v1h-1zM716 486h1v1h-1zM717 486h1v1h-1zM718 486h1v1h-1zM719 485h1v1h-1zM720 485h1v1h-1zM721 484h1v1h-1zM722 484h1v1h-1zM723 483h1v1h-1zM724 483h1v1h-1zM725 482h1v1h-1zM726 482h1v1h-1zM727 481h1v1h-1zM728 481h1v1h-1zM729 480h1v1h-1zM730 480h1v1h-1zM731 480h1v1h-1zM732 479h1v1h-1zM733 479h1v1h-1zM734 480h1v2h-1zM735 482h1v1h-1zM736 483h1v2h-1zM737 485h1v1h-1zM738 486h1v1h-1zM739 487h1v2h-1zM740 489h1v1h-1zM741 490h1v1h-1zM742 489h1v1h-1zM743 489h1v1h-1zM744 488h1v1h-1zM745 487h1v1h-1zM746 486h1v1h-1zM747 486h1v1h-1zM748 485h1v1h-1zM749 484h1v1h-1zM750 485h1v1h-1zM751 486h1v2h-1zM752 488h1v1h-1zM753 489h1v1h-1zM754 489h1v1h-1zM755 489h1v1h-1zM756 489h1v1h-1zM757 489h1v1h-1zM758 490h1v2h-1zM759 492h1v1h-1zM760 493h1v2h-1zM761 495h1v1h-1zM762 495h1v1h-1zM763 495h1v1h-1zM764 496h1v1h-1zM765 496h1v1h-1zM766 494h1v2h-1zM767 493h1v1h-1zM768 491h1v2h-1zM769 490h1v1h-1zM770 489h1v1h-1zM771 488h1v1h-1zM772 487h1v1h-1zM773 486h1v1h-1zM774 486h1v1h-1zM775 485h1v1h-1zM776 485h1v1h-1zM777 484h1v1h-1zM778 484h1v1h-1zM779 484h1v1h-1zM780 484h1v1h-1zM781 484h1v1h-1zM782 484h1v1h-1zM783 484h1v1h-1zM784 485h1v1h-1zM785 485h1v1h-1zM786 485h1v1h-1zM787 484h1v1h-1zM788 484h1v1h-1zM789 483h1v1h-1zM790 483h1v1h-1zM791 482h1v1h-1zM792 482h1v1h-1zM793 481h1v1h-1zM794 481h1v1h-1zM795 481h1v1h-1zM796 481h1v1h-1zM797 481h1v1h-1zM798 481h1v1h-1zM799 481h1v1h-1zM800 480h1v1h-1zM801 480h1v1h-1zM802 480h1v1h-1zM803 480h1v1h-1zM804 480h1v1h-1zM805 480h1v1h-1zM806 480h1v1h-1zM807 481h1v1h-1zM808 481h1v1h-1zM809 482h1v1h-1zM810 482h1v1h-1zM811 482h1v1h-1zM812 482h1v1h-1zM813 482h1v1h-1zM814 482h1v1h-1zM815 482h1v1h-1zM816 483h1v1h-1zM817 483h1v1h-1zM818 483h1v1h-1zM819 483h1v1h-1zM820 484h1v1h-1zM821 484h1v1h-1zM822 484h1v1h-1zM823 484h1v1h-1zM824 483h1v1h-1zM825 483h1v1h-1zM826 483h1v1h-1zM827 484h1v1h-1zM828 484h1v1h-1zM829 485h1v1h-1zM830 484h1v1h-1zM831 483h1v1h-1zM832 482h1v1h-1zM833 481h1v1h-1zM834 481h1v1h-1zM835 480h1v1h-1zM836 480h1v1h-1zM837 479h1v2h-1zM838 481h1v2h-1zM839 483h1v2h-1zM840 485h1v2h-1zM841 487h1v1h-1zM842 487h1v1h-1zM843 488h1v1h-1zM844 488h1v1h-1zM845 489h1v1h-1zM846 489h1v1h-1zM847 489h1v1h-1zM848 490h1v1h-1zM849 490h1v1h-1zM850 490h1v1h-1zM851 490h1v1h-1zM852 491h1v1h-1zM853 491h1v1h-1zM854 492h1v1h-1zM855 492h1v1h-1zM856 493h1v1h-1zM857 494h1v1h-1zM858 493h1v1h-1zM859 493h1v1h-1zM860 492h1v1h-1zM861 491h1v1h-1zM862 491h1v1h-1zM863 491h1v1h-1zM864 491h1v1h-1zM865 491h1v1h-1zM866 492h1v1h-1zM867 492h1v1h-1zM868 493h1v1h-1zM869 494h1v1h-1zM870 494h1v1h-1zM871 495h1v1h-1zM872 495h1v1h-1zM873 496h1v1h-1zM874 496h1v1h-1zM875 496h1v1h-1zM876 495h1v1h-1zM877 495h1v1h-1zM878 496h1v1h-1zM879 496h1v1h-1zM880 497h1v1h-1zM881 498h1v1h-1zM882 497h1v1h-1zM883 497h1v1h-1zM884 496h1v1h-1zM885 495h1v1h-1zM886 494h1v1h-1zM887 492h1v2h-1zM888 491h1v1h-1zM889 490h1v1h-1zM890 491h1v2h-1zM891 493h1v1h-1zM892 494h1v2h-1zM893 496h1v1h-1zM894 497h1v2h-1zM895 499h1v1h-1zM896 500h1v2h-1zM897 502h1v1h-1zM898 502h1v1h-1zM899 502h1v1h-1zM900 502h1v1h-1zM901 502h1v1h-1zM902 503h1v1h-1zM903 503h1v1h-1zM904 504h1v1h-1zM905 505h1v1h-1zM906 505h1v1h-1zM907 505h1v1h-1zM908 506h1v1h-1zM909 506h1v1h-1zM910 506h1v1h-1zM911 506h1v1h-1zM912 506h1v1h-1zM913 506h1v1h-1z" fill="#1e90ff"/>
<path d="M4.5 24.5H1151.5V387.5H4.5Z" fill="none" stroke="#000" stroke-width="1"/>
<path d="M4.5 389.5H1151.5V455.5H4.5Z" fill="none" stroke="#000" stroke-width="1"/>
<path d="M4.5 457.5H1151.5V526.5H4.5Z" fill="none" stroke="#000" stroke-width="1"/>
<rect x="1151" y="94" width="2" height="2" fill="#ff0000"/>
<rect x="1151" y="167" width="2" height="2" fill="#ff0000"/>
<rect x="1151" y="240" width="2" height="2" fill="#00ff00"/>
<rect x="1151" y="312" width="2" height="2" fill="#0000cd"/>
<rect x="1151" y="381" width="2" height="2" fill="#0000ff"/>
<rect x="1152" y="54" width="2" height="1" fill="#000"/>
<rect x="1152" y="87" width="2" height="1" fill="#000"/>
<rect x="1152" y="120" width="2" height="1" fill="#000"/>
<rect x="1152" y="153" width="2" height="1" fill="#000"/>
<rect x="1152" y="186" width="2" height="1" fill="#000"/>
<rect x="1152" y="219" width="2" height="1" fill="#000"/>
<rect x="1152" y="252" width="2" height="1" fill="#000"/>
<rect x="1152" y="285" width="2" height="1" fill="#000"/>
<rect x="1152" y="318" width="2" height="1" fill="#000"/>
<rect x="1152" y="351" width="2" height="1" fill="#000"/>
<rect x="1152" y="391" width="1" height="1" fill="#000"/>
<rect x="1152" y="420" width="1" height="1" fill="#000"/>
<rect x="1152" y="454" width="1" height="1" fill="#000"/>
<rect x="1152" y="458" width="1" height="1" fill="#000"/>
<rect x="1152" y="525" width="1" height="1" fill="#000"/>
<rect x="5" y="527" width="1" height="3" fill="#000"/>
<rect x="69" y="527" width="1" height="3" fill="#000"/>
<rect x="133" y="527" width="1" height="3" fill="#000"/>
<rect x="197" y="527" width="1" height="3" fill="#000"/>
<rect x="261" y="527" width="1" height="3" fill="#000"/>
<rect x="325" y="527" width="1" height="3" fill="#000"/>
<rect x="389" y="527" width="1" height="3" fill="#000"/>
<rect x="453" y="527" width="1" height="3" fill="#000"/>
<rect x="517" y="527" width="1" height="3" fill="#000"/>
<rect x="581" y="527" width="1" height="3" fill="#000"/>
<rect x="645" y="527" width="1" height="3" fill="#000"/>
<rect x="709" y="527" width="1" height="3" fill="#000"/>
<rect x="773" y="527" width="1" height="3" fill="#000"/>
<rect x="837" y="527" width="1" height="3" fill="#000"/>
<rect x="901" y="527" width="1" height="3" fill="#000"/>
</svg>
<svg class="a" style="left:8px;top:29px" width="8" height="6"><path d="M0 5.5L3.5 1L7 5.5Z" fill="#000"/></svg>
<div class="t" style="left:20.6px;top:27px;letter-spacing:-0.2px">AUDUSD-,Daily</div>
<div class="t" style="left:94.8px;top:27px;letter-spacing:-0.33px">0.71411 0.71473 0.71396 0.71440</div>
<div class="t" style="left:9px;top:393px;letter-spacing:-0.35px">MACD(12,26,9) -0.006427 -0.002484</div>
<div class="t" style="left:9px;top:461px">RSI(14) 28.7705</div>
<div class="t" style="left:1157px;top:50px;letter-spacing:-0.4px">0.76370</div>
<div class="t" style="left:1157px;top:83px;letter-spacing:-0.4px">0.75670</div>
<div class="t" style="left:1157px;top:116px;letter-spacing:-0.4px">0.74990</div>
<div class="t" style="left:1157px;top:149px;letter-spacing:-0.4px">0.74310</div>
<div class="t" style="left:1157px;top:182px;letter-spacing:-0.4px">0.73630</div>
<div class="t" style="left:1157px;top:215px;letter-spacing:-0.4px">0.72950</div>
<div class="t" style="left:1157px;top:248px;letter-spacing:-0.4px">0.72270</div>
<div class="t" style="left:1157px;top:281px;letter-spacing:-0.4px">0.71590</div>
<div class="t" style="left:1157px;top:314px;letter-spacing:-0.4px">0.70910</div>
<div class="t" style="left:1157px;top:347px;letter-spacing:-0.4px">0.70230</div>
<div class="t" style="left:1157px;top:394px;letter-spacing:-0.4px">0.008061</div>
<div class="t" style="left:1157px;top:416px;letter-spacing:-0.4px">0.00</div>
<div class="t" style="left:1157px;top:445px;letter-spacing:-0.4px">-0.009280</div>
<div class="t" style="left:1157px;top:460px;letter-spacing:-0.4px">100</div>
<div class="t" style="left:1157px;top:475px;letter-spacing:-0.4px">70</div>
<div class="t" style="left:1157px;top:501px;letter-spacing:-0.4px">30</div>
<div class="t" style="left:1157px;top:517px;letter-spacing:-0.4px">0</div>
<div class="box" style="top:89px;background:#ff0000">0.75512</div>
<div class="box" style="top:162px;background:#ff0000">0.74002</div>
<div class="box" style="top:235px;background:#00ff00">0.72504</div>
<div class="box" style="top:287px;background:#000">0.71440</div>
<div class="box" style="top:307px;background:#0000cd">0.71013</div>
<div class="box" style="top:376px;background:#0000ff">0.69582</div>
<div class="t" style="left:5px;top:531px;letter-spacing:-0.45px">5 Aug 2021</div>
<div class="t" style="left:69px;top:531px;letter-spacing:-0.45px">24 Aug 2021</div>
<div class="t" style="left:133px;top:531px;letter-spacing:-0.45px">12 Sep 2021</div>
<div class="t" style="left:197px;top:531px;letter-spacing:-0.45px">30 Sep 2021</div>
<div class="t" style="left:261px;top:531px;letter-spacing:-0.45px">19 Oct 2021</div>
<div class="t" style="left:325px;top:531px;letter-spacing:-0.45px">7 Nov 2021</div>
<div class="t" style="left:389px;top:531px;letter-spacing:-0.45px">25 Nov 2021</div>
<div class="t" style="left:453px;top:531px;letter-spacing:-0.45px">14 Dec 2021</div>
<div class="t" style="left:517px;top:531px;letter-spacing:-0.45px">2 Jan 2022</div>
<div class="t" style="left:581px;top:531px;letter-spacing:-0.45px">20 Jan 2022</div>
<div class="t" style="left:645px;top:531px;letter-spacing:-0.45px">8 Feb 2022</div>
<div class="t" style="left:709px;top:531px;letter-spacing:-0.45px">27 Feb 2022</div>
<div class="t" style="left:773px;top:531px;letter-spacing:-0.45px">17 Mar 2022</div>
<div class="t" style="left:837px;top:531px;letter-spacing:-0.45px">5 Apr 2022</div>
<div class="t" style="left:901px;top:531px;letter-spacing:-0.45px">24 Apr 2022</div>
<div class="a" style="left:0;top:547px;width:1192px;height:1px;background:#e3e3e3"></div>
<div class="a" style="left:0;top:549px;width:1192px;height:1px;background:#000"></div>
<div class="a" style="left:0;top:550px;width:1192px;height:19px;background:#f0f0f0"></div>
<div class="a" style="left:0;top:550px;width:2px;height:18px;background:#a0a0a0"></div>
<div class="a" style="left:0;top:570px;width:1192px;height:2px;background:#f0f0f0"></div>
<div class="a" style="left:0;top:572px;width:1192px;height:1px;background:#c4c4c4"></div>
<div class="a" style="left:0;top:573px;width:1192px;height:1px;background:#a0a0a0"></div>
<div class="a" style="left:214px;top:549px;width:108px;height:19px;background:#fff;border:1px solid #000;border-top:none"></div>
<div class="a" style="left:215px;top:549px;width:106px;height:1px;background:#fff"></div>
<div class="tab" style="left:17px">USDX,Weekly</div>
<div class="tab" style="left:117px;letter-spacing:-0.5px">EURUSD-,Daily</div>
<div class="tab" style="left:224px;color:#000">AUDUSD-,Daily</div>
<div class="tab" style="left:335px;letter-spacing:-0.5px">USDCHF-,Daily</div>
<div class="tab" style="left:441px;letter-spacing:-0.5px">USDCAD-,Daily</div>
<div class="tab" style="left:550px;letter-spacing:-0.5px">USDCNH-,Daily</div>
<div class="tab" style="left:661px;letter-spacing:-0.5px">XAUUSD-,Daily</div>
<div class="tab" style="left:769px">UKOil-,H1</div>
<div class="tab" style="left:850px">DJ30-,Daily</div>
<div class="tab" style="left:937px">UK100-,H1</div>
<div class="tab" style="left:1022px">USOil-,H1</div>
<div class="tab" style="left:1100px">HK50-,H1</div>
<div class="sep" style="left:106px"></div>
<div class="sep" style="left:430px"></div>
<div class="sep" style="left:538px"></div>
<div class="sep" style="left:650px"></div>
<div class="sep" style="left:758px"></div>
<div class="sep" style="left:838px"></div>
<div class="sep" style="left:926px"></div>
<div class="sep" style="left:1010px"></div>
<div class="sep" style="left:1090px"></div>
<svg class="a" style="left:1164px;top:554px" width="28" height="10"><path d="M6.5 1v7L3 4.5Z" fill="#a0a0a0"/><path d="M22 1v7l3.5-3.5Z" fill="#000"/></svg>
<div class="a" style="left:8px;top:44px;width:52px;height:24px;background:linear-gradient(#fd5555,#e02d2d)"></div>
<div class="a" style="left:175px;top:44px;width:52px;height:24px;background:linear-gradient(#fd5555,#e02d2d)"></div>
<div class="a" style="left:8px;top:68px;width:109px;height:33px;background:linear-gradient(#dc2a2a,#c41414 50%,#ae0000)"></div>
<div class="a" style="left:119px;top:68px;width:108px;height:33px;background:linear-gradient(#dc2a2a,#c41414 50%,#ae0000)"></div>
<div class="a" style="left:12px;top:67px;width:44px;height:1px;background:#a01010"></div>
<div class="a" style="left:12px;top:68px;width:44px;height:1px;background:#ff9a9a"></div>
<div class="a" style="left:179px;top:67px;width:44px;height:1px;background:#a01010"></div>
<div class="a" style="left:179px;top:68px;width:44px;height:1px;background:#ff9a9a"></div>
<div class="a" style="left:60px;top:44px;width:115px;height:24px;background:#fff"></div>
<div class="a" style="left:117px;top:68px;width:2px;height:33px;background:#fff"></div>
<div class="a" style="left:227px;top:94px;width:2px;height:2px;background:#fff"></div>
<div class="a" style="left:62px;top:44px;width:111px;height:22px;background:#fff;border:1px solid #abadb3"></div>
<div class="a" style="left:63px;top:45px;width:20px;height:20px;background:linear-gradient(#f2f2f2,#e4e4e4 50%,#cfcfcf 50%,#d6d6d6);border-right:1px solid #abadb3"></div>
<div class="a" style="left:152px;top:45px;width:20px;height:20px;background:linear-gradient(#f2f2f2,#e4e4e4 50%,#cfcfcf 50%,#d6d6d6);border-left:1px solid #abadb3"></div>
<svg class="a" style="left:69px;top:53px" width="8" height="5"><path d="M0.5 0.5h6L3.5 4Z" fill="#4a62c4"/></svg>
<svg class="a" style="left:158px;top:53px" width="8" height="5"><path d="M0.5 4h6L3.5 0.5Z" fill="#4a62c4"/></svg>
<div class="a" style="left:124px;top:48px;font-size:12px;line-height:14px;color:#000">2.00</div>
<div class="a" style="left:20px;top:49px;font-size:12px;line-height:14px;color:#fff;letter-spacing:-1.1px">SELL</div>
<div class="a" style="left:187.5px;top:49px;font-size:12px;line-height:14px;color:#fff;letter-spacing:-0.1px">BUY</div>
<div class="a" style="left:28.3px;top:85.5px;font-size:12px;line-height:12px;color:#fff;font-weight:bold">0.71</div>
<div class="a" style="left:138.3px;top:85.5px;font-size:12px;line-height:12px;color:#fff;font-weight:bold">0.71</div>
<div class="a" style="left:54px;top:67px;font-size:34px;line-height:34px;color:#fff;letter-spacing:-1.2px">44</div>
<div class="a" style="left:165px;top:67px;font-size:34px;line-height:34px;color:#fff;letter-spacing:-1px">46</div>
<div class="a" style="left:94.5px;top:69.5px;font-size:12px;line-height:12px;color:#fff;font-weight:bold">0</div>
<div class="a" style="left:206px;top:69.5px;font-size:12px;line-height:12px;color:#fff;font-weight:bold">0</div>

</body></html>
